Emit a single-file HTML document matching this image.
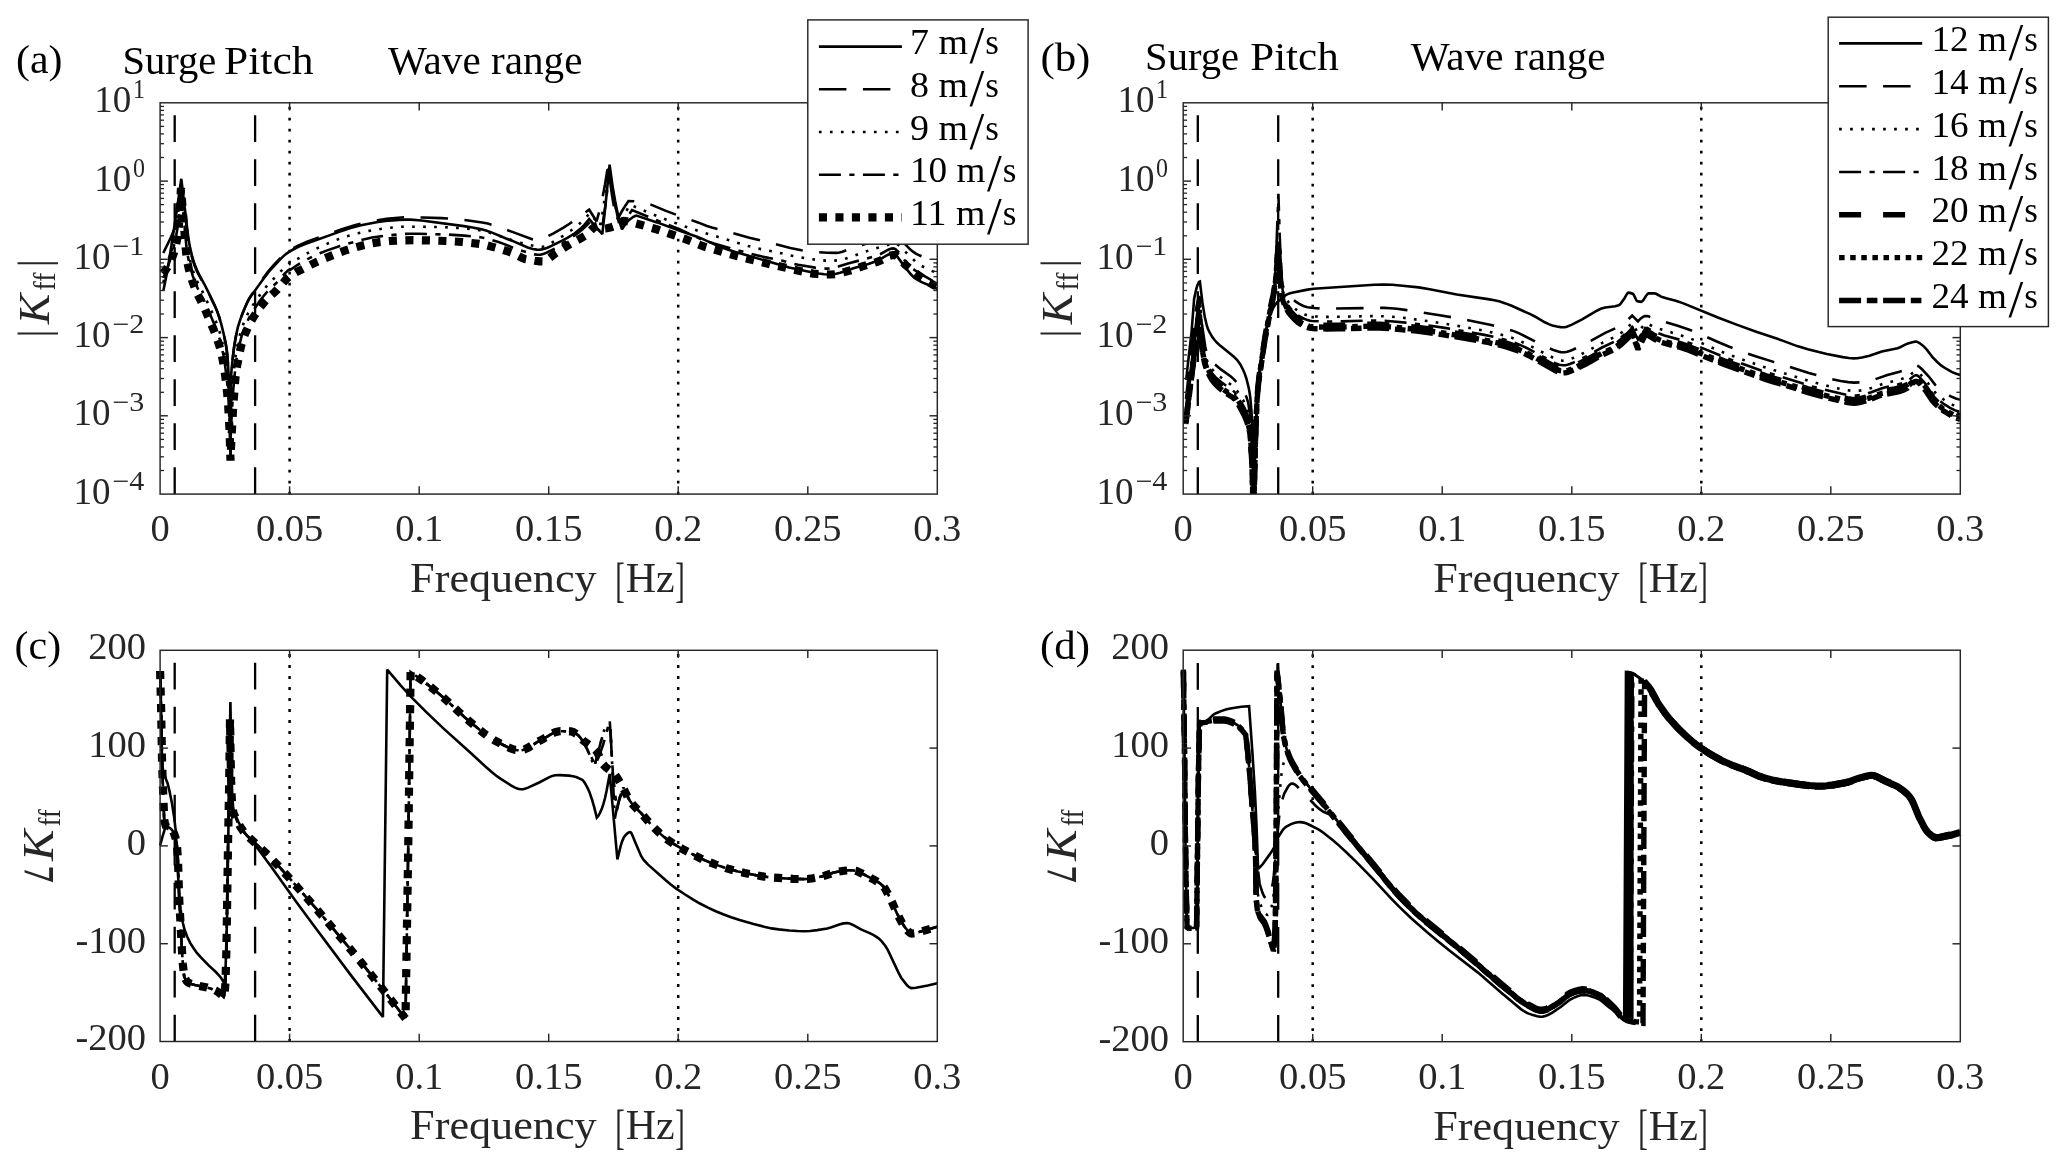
<!DOCTYPE html>
<html lang="en"><head><meta charset="utf-8"><title>Feedforward gain frequency response</title>
<style>html,body{margin:0;padding:0;background:#fff}body{width:2067px;height:1168px;overflow:hidden}svg{display:block;will-change:transform}text{font-family:"Liberation Serif","DejaVu Serif",serif}</style></head><body>
<svg width="2067" height="1168" viewBox="0 0 2067 1168">
<rect x="0" y="0" width="2067" height="1168" fill="#fff"/>
<defs>
<clipPath id="clipa"><rect x="155.1" y="97.8" width="787.2" height="396.3"/></clipPath>
<clipPath id="clipb"><rect x="1178.2" y="97.8" width="787.1" height="396.3"/></clipPath>
<clipPath id="clipc"><rect x="155.1" y="645.3" width="787.2" height="401.2"/></clipPath>
<clipPath id="clipd"><rect x="1178.2" y="645.2" width="787.1" height="401.5"/></clipPath>
</defs>
<g id="panel-a">
<line x1="174.7" y1="494.1" x2="174.7" y2="102.8" stroke="#000" stroke-width="2.3" stroke-dasharray="26.8 17.2"/>
<line x1="255.1" y1="494.1" x2="255.1" y2="102.8" stroke="#000" stroke-width="2.3" stroke-dasharray="26.8 17.2"/>
<line x1="289.6" y1="494.5" x2="289.6" y2="102.8" stroke="#000" stroke-width="2.5" stroke-dasharray="2.8 8.2"/>
<line x1="678.2" y1="494.5" x2="678.2" y2="102.8" stroke="#000" stroke-width="2.5" stroke-dasharray="2.8 8.2"/>
<path d="M163.3 291 L166.6 274.8 L169.2 259.8 L176.1 215.1 L181.3 178.8 L188.4 238.3 L189.7 245.9 L192.3 257 L194.4 263.8 L197 270.3 L199 274.4 L204 283.5 L208.1 291.7 L214.7 305.6 L217.3 311.6 L219.3 317.5 L221.4 324.7 L223.5 333.2 L225.7 343.5 L226.8 350.5 L227.7 359 L228.9 379.5 L230.5 458 L230.8 387.6 L231.2 374.6 L231.7 367.7 L233.8 349.1 L235.7 337.4 L237.8 327.4 L240.4 319.1 L244 309.9 L247.5 301.8 L250 297.4 L265.5 276.1 L270 270.3 L279.5 260 L283 256.6 L286.5 253.6 L289.5 251.6 L294 249 L299 246.6 L304.5 244.2 L338.5 232.1 L350.5 228.1 L361 225.3 L376.5 222.2 L385.5 221 L399 219.9 L405 219.6 L410.5 219.6 L421.6 220.5 L463.9 226.1 L472.4 227.5 L480.5 229.1 L486 230.5 L492 232.6 L506.1 238.5 L513.6 241.4 L527.7 247.5 L532.8 249 L536.8 249.6 L539.3 249.7 L541.8 249.4 L544.4 248.7 L547.4 247.7 L551.5 245.9 L562.1 240.7 L567.8 237.7 L574.4 233.5 L580 229.1 L584.1 225.1 L589.2 219.1 L595.5 226.6 L602.3 234.1 L605.8 202 L609.6 164.6 L612.7 187.1 L615 200.3 L617 210.4 L619 219.2 L620.5 224.8 L622 229.3 L625.5 223.9 L628.5 220.4 L633 217 L635 216 L636.5 215.5 L657 222.4 L680.5 231 L697 236.7 L703 239.1 L717.7 245.9 L725.3 248.7 L733.8 251.5 L779.6 264.8 L789.1 267.4 L812.6 272.5 L818.7 273.5 L824.2 274.2 L829.2 274.5 L832.7 274.4 L836.2 273.8 L840.2 272.8 L854.3 267.9 L868.4 263.9 L875.4 261.6 L878.9 260 L885.4 256.1 L887.9 254.8 L890.9 253.8 L893.4 253.6 L895 254.3 L897 256.2 L904.2 266.1 L911.5 275 L914.6 278 L917.6 280 L921.7 282.2 L937.3 288.8" fill="none" stroke="#000" stroke-width="2.6" stroke-linejoin="miter" stroke-miterlimit="2.2" clip-path="url(#clipa)"/>
<path d="M163.3 253 L170.7 237.8 L173.7 230.8 L175.2 226.3 L176.8 219.4 L178.5 210 L179.7 201.1 L180.8 190 L182.4 198.3 L184.6 211.2 L188.8 243.6 L190.3 250.8 L192.4 258.9 L194.5 265.3 L197 271.4 L210.1 296 L214.7 305.6 L217.3 311.6 L219.3 317.5 L221.4 324.7 L223.5 333.2 L225.7 343.5 L226.8 350.5 L227.7 359 L228.9 379.5 L230.5 458 L230.9 381 L231.4 370.4 L233 355.5 L234.2 346.3 L235.7 337.4 L236.7 331.9 L238.3 325.5 L239.9 320.5 L241.9 315 L245.5 306.3 L248.5 299.9 L250.5 296.4 L253.5 291.9 L262.5 279 L268.5 271.1 L273 265.9 L280 258.4 L284 254.5 L288 251.3 L291.5 249.1 L296.5 246.4 L301.5 244.1 L307 241.8 L341 229.6 L355.5 225.1 L367 222.3 L379 220 L386.5 218.9 L401 217.5 L408 217.3 L423 217.5 L441.5 218.1 L452.1 218.7 L461.1 219.6 L470.1 220.7 L482.2 222.5 L487.7 223.6 L492.8 225 L498.9 227 L513 232.1 L532.8 239.5 L536.3 240.2 L539.3 239.9 L542.9 238.6 L553.5 233.3 L563.5 227.7 L569.5 223.8 L589.2 209.7 L596.5 221.3 L599.5 210.7 L602.5 197.7 L605 184.5 L608 166 L612 195 L614.5 210.3 L616.5 221 L622 211 L625.5 205.4 L628.5 201 L634.2 201.2 L641.9 202 L645.9 202.9 L649.9 204.2 L665.9 210.9 L682.4 217 L698 222.4 L706.9 226 L711.9 227.5 L724.4 230.7 L749.4 237.8 L767.2 242 L790.3 248 L801.5 250.3 L807.5 251.3 L817.2 252.1 L827.3 252.7 L836.4 252.9 L839.5 252.5 L842.5 251.7 L852.2 248.2 L864.4 244.3 L873.5 241.1 L877.5 239.4 L884.5 235.4 L887.5 233.8 L890.5 232.8 L893.5 232.5 L895.5 233.4 L897.5 235 L905 244.1 L910.7 249.8 L913.3 251.9 L916.3 253.8 L919.3 255.3 L937.3 263" fill="none" stroke="#000" stroke-width="2.6" stroke-linejoin="miter" stroke-miterlimit="2.2" stroke-dasharray="27.5 16.5" clip-path="url(#clipa)"/>
<path d="M163.3 282.5 L166.4 272.4 L168.9 263.2 L172.7 246 L175.5 231.9 L177.3 221.7 L178.7 211.7 L180.8 186.6 L181.1 184.5 L181.5 186.9 L185 224.3 L186.7 240.6 L188.8 254.3 L190.9 263.6 L193.4 271.9 L196.5 280.1 L204.2 295.1 L214 316.8 L216.8 323.6 L218.9 329.5 L220.7 335.5 L222.4 342.8 L224.2 351.6 L225.6 360.2 L227 370.8 L227.7 377.7 L228.4 387.4 L229.1 401.8 L230.5 459.2 L230.8 415.8 L231.5 400.7 L232.9 381.2 L235 360.4 L236.1 352.6 L237.8 343.3 L240.6 332.1 L242 327.7 L244.1 322.1 L248 313.3 L251.1 307.7 L256.7 299.4 L263 290.7 L267.9 284.7 L277.4 275 L284 267.9 L287.9 264.4 L289.6 263.1 L290 263.8 L296.6 259.5 L303.2 255.6 L309.2 252.2 L316.2 248.7 L323.2 245.5 L331.2 242.1 L338.8 239 L344.8 236.8 L356.4 233.6 L369.1 230.9 L385.3 228.2 L399.1 226.9 L403.2 226.7 L414.9 226.7 L440.1 227 L460.7 228.1 L473.9 229.4 L481.5 230.6 L487.5 232 L493 233.7 L507.5 238.7 L520.5 242.7 L526.5 244.3 L535 246 L539.1 246.6 L542.6 246.8 L545.2 246.4 L548.8 244.7 L555 240.6 L563.1 235.8 L572.8 229.3 L577.3 225.7 L581.3 222.1 L585.4 218 L590 213 L600 226 L602.5 212.4 L604.9 197.3 L609 167 L613.5 196 L616.5 212.2 L619 224 L630 204.6 L644.3 210.8 L658.5 216.6 L670.7 221.3 L685 226.5 L700.1 231.5 L748.4 246.1 L758 248.5 L776.7 252.3 L796.1 256.6 L812.1 259.3 L825.2 260.6 L829.7 260.8 L833.7 260.7 L839.8 260.1 L843.3 259.5 L870.7 249.8 L874.8 248.6 L884.3 246.2 L891.4 243.4 L893 243.1 L894.5 243 L895.5 243.2 L897 243.9 L899.5 245.7 L907.6 254 L915.2 261.3 L917.7 263.4 L921.7 266 L926.2 268.3 L932.2 271.1 L937.3 273" fill="none" stroke="#000" stroke-width="2.6" stroke-linejoin="miter" stroke-miterlimit="2.2" stroke-dasharray="2.7 8.3" clip-path="url(#clipa)"/>
<path d="M163.3 277.9 L167.1 268.9 L169.9 260.5 L173.4 248.1 L176.2 235.5 L177.6 227.4 L178.7 219.4 L180.8 188.9 L181.1 187 L185 231.8 L186.4 246.1 L187.8 255.8 L189.9 265.9 L192.7 275.7 L195.8 284.2 L197.9 288.8 L203.9 300.2 L214 323.4 L216.5 329.5 L218.6 335.5 L220.3 341.3 L221.7 347 L223.5 355.6 L224.9 364.1 L226.6 377.5 L227.7 387.6 L228.4 397.1 L229.4 420.1 L230.5 459.8 L230.8 432.7 L231.2 424 L232.9 394.7 L233.6 385.8 L235.4 367.2 L236.4 359.6 L238.9 346.9 L241.7 335.8 L244.8 327 L248.7 318.5 L252.5 311.7 L258.8 302.3 L263 296.7 L266.9 292.1 L276.7 282.6 L284.7 273.6 L288.2 270.3 L289.6 269.3 L290 270 L296.5 265.6 L302 262.2 L307.5 259.2 L314.5 255.7 L320.5 253 L326.5 250.6 L340 245.9 L360.5 240.1 L372 237.5 L386.6 235.5 L405.4 233.9 L409.5 233.7 L418.6 233.8 L446.3 234.5 L464.3 235.6 L478.9 236.9 L486.4 238.5 L498.5 242 L503 243.6 L515.6 248.7 L530.8 253.6 L534.4 254.4 L538 254.8 L540.5 254.7 L543 254.1 L547 252.5 L555 248.4 L575 235.2 L579 232.3 L582 229.8 L586 226.1 L590 222 L601 232 L603 221.7 L605.5 205 L607.2 190.7 L609.3 170 L614.5 200.7 L617.5 216.2 L620 228 L632 210 L651 217.9 L680 229.5 L701.5 239.3 L706.5 241.2 L714 243.6 L745.5 252.4 L762.1 256.6 L781.5 260.4 L791.5 263.3 L798.2 264.7 L815.1 267.6 L822.2 268.4 L826.3 268.6 L828.8 268.5 L832.9 267.8 L838.4 266.6 L848 263.5 L865.5 258.9 L876 255.8 L880.6 254 L888.8 249.4 L891.4 248.6 L893.4 248.4 L895.4 249.2 L897.9 251.4 L900.4 254.4 L906.9 263.5 L908.9 265.8 L910.4 267.1 L915.5 270.7 L923.1 275.4 L930.7 279.7 L937.3 283" fill="none" stroke="#000" stroke-width="2.6" stroke-linejoin="miter" stroke-miterlimit="2.2" stroke-dasharray="22 8.4 5.2 8.4" clip-path="url(#clipa)"/>
<path d="M162.7 273.5 L164.9 270.9 L167.1 267.7 L169.3 263.9 L170.9 260.5 L172.5 256.7 L174 252.5 L175.5 247.1 L176.5 242.6 L177.6 236.6 L178.9 226 L181 188 L186.1 252.8 L187.3 261.7 L188.8 269.1 L191.9 280 L195 288.5 L197.6 294.4 L203.4 305.7 L213.9 330.5 L215.9 335.6 L218.6 343.4 L220.3 348.9 L221.9 355.6 L222.9 361.1 L224 367.3 L225.3 376.5 L227.1 392.6 L228 402.5 L229.5 429.2 L230.5 460.5 L231.3 441.3 L233.3 404.8 L235.4 378 L236.7 367.8 L240.4 349 L241.4 344.7 L242.9 339.6 L245 334.1 L248.1 327.1 L251.1 321.2 L254.2 316 L259.8 307.6 L265.5 300.6 L268.6 297.5 L274.8 292 L277.4 289.5 L286.7 278.7 L288.8 276.9 L291.3 275.1 L295.9 272.4 L311.1 264.6 L317.6 261.5 L325.1 258.2 L335.1 254.2 L344.7 250.7 L354.3 247.7 L362.4 245.5 L372.5 243.2 L379.1 242.1 L390.3 241 L401.1 240.5 L413.3 240.2 L428.4 240.4 L449.1 241.1 L462.2 242 L479.3 243.9 L487.3 245.4 L499.8 248.8 L509.4 251.9 L513.4 253.4 L521.9 257.8 L524.9 259 L535 260.8 L539.6 261.3 L543.1 261.4 L545.2 260.9 L547.2 259.8 L555.5 253.3 L568.3 245.1 L572.3 242.8 L581.4 238 L584.9 235.9 L587.4 233.9 L593 228.3 L594.5 227.1 L596 226.2 L597.5 225.7 L598.5 225.7 L600 226.3 L604 228.3 L605 228.5 L607.1 228.3 L610.1 227.6 L613.7 226.4 L619.7 222.6 L621.7 221.6 L623.7 221 L625.7 221.1 L628.8 221.5 L631.8 222.2 L657.4 229.5 L686.7 239.6 L703.5 246.4 L709.6 248.3 L730.4 254.2 L747.5 258.7 L770.2 264.3 L808.1 272.7 L813.2 273.6 L822.8 274.3 L831.5 274.5 L835.1 274.2 L838.6 273.6 L850.8 270.3 L863 266.2 L876.5 262.1 L880.5 260.5 L887.1 256.9 L889.6 255.8 L892.6 255 L894.6 255 L896.2 255.7 L897.7 256.8 L905.5 264.9 L917.5 274.7 L926.7 280.9 L932.9 284.6 L937.3 287" fill="none" stroke="#000" stroke-width="8.2" stroke-linejoin="miter" stroke-miterlimit="2.2" stroke-dasharray="8.1 8.4" clip-path="url(#clipa)"/>
<rect x="160.1" y="102.8" width="777.2" height="391.3" fill="none" stroke="#262626" stroke-width="1.45"/>
<line x1="289.6" y1="494.1" x2="289.6" y2="486.3" stroke="#262626" stroke-width="1.45"/>
<line x1="289.6" y1="102.8" x2="289.6" y2="110.6" stroke="#262626" stroke-width="1.45"/>
<line x1="419.2" y1="494.1" x2="419.2" y2="486.3" stroke="#262626" stroke-width="1.45"/>
<line x1="419.2" y1="102.8" x2="419.2" y2="110.6" stroke="#262626" stroke-width="1.45"/>
<line x1="548.7" y1="494.1" x2="548.7" y2="486.3" stroke="#262626" stroke-width="1.45"/>
<line x1="548.7" y1="102.8" x2="548.7" y2="110.6" stroke="#262626" stroke-width="1.45"/>
<line x1="678.2" y1="494.1" x2="678.2" y2="486.3" stroke="#262626" stroke-width="1.45"/>
<line x1="678.2" y1="102.8" x2="678.2" y2="110.6" stroke="#262626" stroke-width="1.45"/>
<line x1="807.8" y1="494.1" x2="807.8" y2="486.3" stroke="#262626" stroke-width="1.45"/>
<line x1="807.8" y1="102.8" x2="807.8" y2="110.6" stroke="#262626" stroke-width="1.45"/>
<line x1="160.1" y1="157.5" x2="164" y2="157.5" stroke="#262626" stroke-width="1.3"/>
<line x1="937.3" y1="157.5" x2="933.4" y2="157.5" stroke="#262626" stroke-width="1.3"/>
<line x1="160.1" y1="143.7" x2="164" y2="143.7" stroke="#262626" stroke-width="1.3"/>
<line x1="937.3" y1="143.7" x2="933.4" y2="143.7" stroke="#262626" stroke-width="1.3"/>
<line x1="160.1" y1="133.9" x2="164" y2="133.9" stroke="#262626" stroke-width="1.3"/>
<line x1="937.3" y1="133.9" x2="933.4" y2="133.9" stroke="#262626" stroke-width="1.3"/>
<line x1="160.1" y1="126.4" x2="164" y2="126.4" stroke="#262626" stroke-width="1.3"/>
<line x1="937.3" y1="126.4" x2="933.4" y2="126.4" stroke="#262626" stroke-width="1.3"/>
<line x1="160.1" y1="120.2" x2="164" y2="120.2" stroke="#262626" stroke-width="1.3"/>
<line x1="937.3" y1="120.2" x2="933.4" y2="120.2" stroke="#262626" stroke-width="1.3"/>
<line x1="160.1" y1="114.9" x2="164" y2="114.9" stroke="#262626" stroke-width="1.3"/>
<line x1="937.3" y1="114.9" x2="933.4" y2="114.9" stroke="#262626" stroke-width="1.3"/>
<line x1="160.1" y1="110.4" x2="164" y2="110.4" stroke="#262626" stroke-width="1.3"/>
<line x1="937.3" y1="110.4" x2="933.4" y2="110.4" stroke="#262626" stroke-width="1.3"/>
<line x1="160.1" y1="106.4" x2="164" y2="106.4" stroke="#262626" stroke-width="1.3"/>
<line x1="937.3" y1="106.4" x2="933.4" y2="106.4" stroke="#262626" stroke-width="1.3"/>
<line x1="160.1" y1="181.1" x2="167.9" y2="181.1" stroke="#262626" stroke-width="1.45"/>
<line x1="937.3" y1="181.1" x2="929.5" y2="181.1" stroke="#262626" stroke-width="1.45"/>
<line x1="160.1" y1="235.8" x2="164" y2="235.8" stroke="#262626" stroke-width="1.3"/>
<line x1="937.3" y1="235.8" x2="933.4" y2="235.8" stroke="#262626" stroke-width="1.3"/>
<line x1="160.1" y1="222" x2="164" y2="222" stroke="#262626" stroke-width="1.3"/>
<line x1="937.3" y1="222" x2="933.4" y2="222" stroke="#262626" stroke-width="1.3"/>
<line x1="160.1" y1="212.2" x2="164" y2="212.2" stroke="#262626" stroke-width="1.3"/>
<line x1="937.3" y1="212.2" x2="933.4" y2="212.2" stroke="#262626" stroke-width="1.3"/>
<line x1="160.1" y1="204.6" x2="164" y2="204.6" stroke="#262626" stroke-width="1.3"/>
<line x1="937.3" y1="204.6" x2="933.4" y2="204.6" stroke="#262626" stroke-width="1.3"/>
<line x1="160.1" y1="198.4" x2="164" y2="198.4" stroke="#262626" stroke-width="1.3"/>
<line x1="937.3" y1="198.4" x2="933.4" y2="198.4" stroke="#262626" stroke-width="1.3"/>
<line x1="160.1" y1="193.2" x2="164" y2="193.2" stroke="#262626" stroke-width="1.3"/>
<line x1="937.3" y1="193.2" x2="933.4" y2="193.2" stroke="#262626" stroke-width="1.3"/>
<line x1="160.1" y1="188.6" x2="164" y2="188.6" stroke="#262626" stroke-width="1.3"/>
<line x1="937.3" y1="188.6" x2="933.4" y2="188.6" stroke="#262626" stroke-width="1.3"/>
<line x1="160.1" y1="184.6" x2="164" y2="184.6" stroke="#262626" stroke-width="1.3"/>
<line x1="937.3" y1="184.6" x2="933.4" y2="184.6" stroke="#262626" stroke-width="1.3"/>
<line x1="160.1" y1="259.3" x2="167.9" y2="259.3" stroke="#262626" stroke-width="1.45"/>
<line x1="937.3" y1="259.3" x2="929.5" y2="259.3" stroke="#262626" stroke-width="1.45"/>
<line x1="160.1" y1="314" x2="164" y2="314" stroke="#262626" stroke-width="1.3"/>
<line x1="937.3" y1="314" x2="933.4" y2="314" stroke="#262626" stroke-width="1.3"/>
<line x1="160.1" y1="300.2" x2="164" y2="300.2" stroke="#262626" stroke-width="1.3"/>
<line x1="937.3" y1="300.2" x2="933.4" y2="300.2" stroke="#262626" stroke-width="1.3"/>
<line x1="160.1" y1="290.5" x2="164" y2="290.5" stroke="#262626" stroke-width="1.3"/>
<line x1="937.3" y1="290.5" x2="933.4" y2="290.5" stroke="#262626" stroke-width="1.3"/>
<line x1="160.1" y1="282.9" x2="164" y2="282.9" stroke="#262626" stroke-width="1.3"/>
<line x1="937.3" y1="282.9" x2="933.4" y2="282.9" stroke="#262626" stroke-width="1.3"/>
<line x1="160.1" y1="276.7" x2="164" y2="276.7" stroke="#262626" stroke-width="1.3"/>
<line x1="937.3" y1="276.7" x2="933.4" y2="276.7" stroke="#262626" stroke-width="1.3"/>
<line x1="160.1" y1="271.4" x2="164" y2="271.4" stroke="#262626" stroke-width="1.3"/>
<line x1="937.3" y1="271.4" x2="933.4" y2="271.4" stroke="#262626" stroke-width="1.3"/>
<line x1="160.1" y1="266.9" x2="164" y2="266.9" stroke="#262626" stroke-width="1.3"/>
<line x1="937.3" y1="266.9" x2="933.4" y2="266.9" stroke="#262626" stroke-width="1.3"/>
<line x1="160.1" y1="262.9" x2="164" y2="262.9" stroke="#262626" stroke-width="1.3"/>
<line x1="937.3" y1="262.9" x2="933.4" y2="262.9" stroke="#262626" stroke-width="1.3"/>
<line x1="160.1" y1="337.6" x2="167.9" y2="337.6" stroke="#262626" stroke-width="1.45"/>
<line x1="937.3" y1="337.6" x2="929.5" y2="337.6" stroke="#262626" stroke-width="1.45"/>
<line x1="160.1" y1="392.3" x2="164" y2="392.3" stroke="#262626" stroke-width="1.3"/>
<line x1="937.3" y1="392.3" x2="933.4" y2="392.3" stroke="#262626" stroke-width="1.3"/>
<line x1="160.1" y1="378.5" x2="164" y2="378.5" stroke="#262626" stroke-width="1.3"/>
<line x1="937.3" y1="378.5" x2="933.4" y2="378.5" stroke="#262626" stroke-width="1.3"/>
<line x1="160.1" y1="368.7" x2="164" y2="368.7" stroke="#262626" stroke-width="1.3"/>
<line x1="937.3" y1="368.7" x2="933.4" y2="368.7" stroke="#262626" stroke-width="1.3"/>
<line x1="160.1" y1="361.1" x2="164" y2="361.1" stroke="#262626" stroke-width="1.3"/>
<line x1="937.3" y1="361.1" x2="933.4" y2="361.1" stroke="#262626" stroke-width="1.3"/>
<line x1="160.1" y1="354.9" x2="164" y2="354.9" stroke="#262626" stroke-width="1.3"/>
<line x1="937.3" y1="354.9" x2="933.4" y2="354.9" stroke="#262626" stroke-width="1.3"/>
<line x1="160.1" y1="349.7" x2="164" y2="349.7" stroke="#262626" stroke-width="1.3"/>
<line x1="937.3" y1="349.7" x2="933.4" y2="349.7" stroke="#262626" stroke-width="1.3"/>
<line x1="160.1" y1="345.2" x2="164" y2="345.2" stroke="#262626" stroke-width="1.3"/>
<line x1="937.3" y1="345.2" x2="933.4" y2="345.2" stroke="#262626" stroke-width="1.3"/>
<line x1="160.1" y1="341.2" x2="164" y2="341.2" stroke="#262626" stroke-width="1.3"/>
<line x1="937.3" y1="341.2" x2="933.4" y2="341.2" stroke="#262626" stroke-width="1.3"/>
<line x1="160.1" y1="415.8" x2="167.9" y2="415.8" stroke="#262626" stroke-width="1.45"/>
<line x1="937.3" y1="415.8" x2="929.5" y2="415.8" stroke="#262626" stroke-width="1.45"/>
<line x1="160.1" y1="470.5" x2="164" y2="470.5" stroke="#262626" stroke-width="1.3"/>
<line x1="937.3" y1="470.5" x2="933.4" y2="470.5" stroke="#262626" stroke-width="1.3"/>
<line x1="160.1" y1="456.8" x2="164" y2="456.8" stroke="#262626" stroke-width="1.3"/>
<line x1="937.3" y1="456.8" x2="933.4" y2="456.8" stroke="#262626" stroke-width="1.3"/>
<line x1="160.1" y1="447" x2="164" y2="447" stroke="#262626" stroke-width="1.3"/>
<line x1="937.3" y1="447" x2="933.4" y2="447" stroke="#262626" stroke-width="1.3"/>
<line x1="160.1" y1="439.4" x2="164" y2="439.4" stroke="#262626" stroke-width="1.3"/>
<line x1="937.3" y1="439.4" x2="933.4" y2="439.4" stroke="#262626" stroke-width="1.3"/>
<line x1="160.1" y1="433.2" x2="164" y2="433.2" stroke="#262626" stroke-width="1.3"/>
<line x1="937.3" y1="433.2" x2="933.4" y2="433.2" stroke="#262626" stroke-width="1.3"/>
<line x1="160.1" y1="428" x2="164" y2="428" stroke="#262626" stroke-width="1.3"/>
<line x1="937.3" y1="428" x2="933.4" y2="428" stroke="#262626" stroke-width="1.3"/>
<line x1="160.1" y1="423.4" x2="164" y2="423.4" stroke="#262626" stroke-width="1.3"/>
<line x1="937.3" y1="423.4" x2="933.4" y2="423.4" stroke="#262626" stroke-width="1.3"/>
<line x1="160.1" y1="419.4" x2="164" y2="419.4" stroke="#262626" stroke-width="1.3"/>
<line x1="937.3" y1="419.4" x2="933.4" y2="419.4" stroke="#262626" stroke-width="1.3"/>
<text x="160.1" y="541.1" font-size="38.5" text-anchor="middle" fill="#262626">0</text>
<text x="289.6" y="541.1" font-size="38.5" text-anchor="middle" fill="#262626">0.05</text>
<text x="419.2" y="541.1" font-size="38.5" text-anchor="middle" fill="#262626">0.1</text>
<text x="548.7" y="541.1" font-size="38.5" text-anchor="middle" fill="#262626">0.15</text>
<text x="678.2" y="541.1" font-size="38.5" text-anchor="middle" fill="#262626">0.2</text>
<text x="807.8" y="541.1" font-size="38.5" text-anchor="middle" fill="#262626">0.25</text>
<text x="937.3" y="541.1" font-size="38.5" text-anchor="middle" fill="#262626">0.3</text>
<text x="410.1" y="592" font-size="41.5" text-anchor="start" fill="#262626" textLength="186.5" lengthAdjust="spacingAndGlyphs">Frequency</text>
<text x="615.2" y="595.5" font-size="49" text-anchor="start" fill="#262626" textLength="9.5" lengthAdjust="spacingAndGlyphs">[</text>
<text x="625.7" y="592" font-size="42" text-anchor="start" fill="#262626">Hz</text>
<text x="675.2" y="595.5" font-size="49" text-anchor="start" fill="#262626" textLength="9.5" lengthAdjust="spacingAndGlyphs">]</text>
<text x="94.3" y="112.2" font-size="38.5" text-anchor="start" fill="#262626" textLength="37" lengthAdjust="spacingAndGlyphs">10</text>
<text x="133" y="98.4" font-size="27" text-anchor="start" fill="#262626" textLength="12" lengthAdjust="spacingAndGlyphs">1</text>
<text x="94.3" y="190.5" font-size="38.5" text-anchor="start" fill="#262626" textLength="37" lengthAdjust="spacingAndGlyphs">10</text>
<text x="133" y="176.7" font-size="27" text-anchor="start" fill="#262626" textLength="12" lengthAdjust="spacingAndGlyphs">0</text>
<text x="73.4" y="268.7" font-size="38.5" text-anchor="start" fill="#262626" textLength="37" lengthAdjust="spacingAndGlyphs">10</text>
<text x="112.3" y="254.9" font-size="27" text-anchor="start" fill="#262626" textLength="32" lengthAdjust="spacingAndGlyphs">−1</text>
<text x="73.4" y="347" font-size="38.5" text-anchor="start" fill="#262626" textLength="37" lengthAdjust="spacingAndGlyphs">10</text>
<text x="112.3" y="333.2" font-size="27" text-anchor="start" fill="#262626" textLength="32" lengthAdjust="spacingAndGlyphs">−2</text>
<text x="73.4" y="425.2" font-size="38.5" text-anchor="start" fill="#262626" textLength="37" lengthAdjust="spacingAndGlyphs">10</text>
<text x="112.3" y="411.4" font-size="27" text-anchor="start" fill="#262626" textLength="32" lengthAdjust="spacingAndGlyphs">−3</text>
<text x="73.4" y="503.5" font-size="38.5" text-anchor="start" fill="#262626" textLength="37" lengthAdjust="spacingAndGlyphs">10</text>
<text x="112.3" y="489.7" font-size="27" text-anchor="start" fill="#262626" textLength="32" lengthAdjust="spacingAndGlyphs">−4</text>
<g transform="translate(49 298.4) rotate(-90)" fill="#262626">
<text x="-39.5" y="0" font-size="45" text-anchor="start" fill="#262626">|</text>
<text x="-25.8" y="0" font-size="44" text-anchor="start" fill="#262626" textLength="30.5" lengthAdjust="spacingAndGlyphs" font-style="italic">K</text>
<text x="7.9" y="6.1" font-size="31" text-anchor="start" fill="#262626" textLength="17.8" lengthAdjust="spacingAndGlyphs">ff</text>
<text x="30.6" y="0" font-size="45" text-anchor="start" fill="#262626">|</text>
</g>
<text x="16" y="73.1" font-size="39.5" text-anchor="start" fill="#000" textLength="46.5" lengthAdjust="spacingAndGlyphs">(a)</text>
<text x="122.4" y="73.5" font-size="39" text-anchor="start" fill="#000" textLength="94" lengthAdjust="spacingAndGlyphs">Surge</text>
<text x="224" y="73.5" font-size="39" text-anchor="start" fill="#000" textLength="89.5" lengthAdjust="spacingAndGlyphs">Pitch</text>
<text x="388" y="73.5" font-size="39" text-anchor="start" fill="#000" textLength="194.5" lengthAdjust="spacingAndGlyphs">Wave range</text>
</g>
<g id="panel-b">
<line x1="1197.8" y1="494.1" x2="1197.8" y2="102.8" stroke="#000" stroke-width="2.3" stroke-dasharray="26.8 17.2"/>
<line x1="1278.2" y1="494.1" x2="1278.2" y2="102.8" stroke="#000" stroke-width="2.3" stroke-dasharray="26.8 17.2"/>
<line x1="1312.7" y1="494.5" x2="1312.7" y2="102.8" stroke="#000" stroke-width="2.5" stroke-dasharray="2.8 8.2"/>
<line x1="1701.3" y1="494.5" x2="1701.3" y2="102.8" stroke="#000" stroke-width="2.5" stroke-dasharray="2.8 8.2"/>
<path d="M1186.2 380 L1187.6 366.6 L1191.6 331.6 L1194.1 299 L1195.9 290.5 L1197.4 285.3 L1198.9 282.1 L1199.4 281.7 L1199.9 281.5 L1202.5 302.9 L1204.8 317.1 L1206.9 326 L1207.9 328.8 L1209.5 332.2 L1212.5 337.3 L1214.6 340 L1217.1 342.8 L1220.1 345.6 L1233.3 356.2 L1237 359.8 L1240.2 364.1 L1243.3 370.2 L1244.9 374.1 L1246.5 378.9 L1248.7 387.7 L1249.6 392.8 L1250.4 398.7 L1251.5 411.5 L1252.3 430 L1252.7 450 L1253.4 530 L1254.2 470 L1254.9 444.9 L1255.9 422.2 L1257.1 400.2 L1258.9 377.9 L1260.5 362 L1262.5 348.2 L1265 335 L1268 322.1 L1270.5 314 L1272 310.4 L1273.5 307.4 L1275 305 L1277 302.5 L1279.6 300.1 L1283.6 296.7 L1285.7 295.2 L1287.7 294.1 L1290.2 293.2 L1293.3 292.4 L1307.5 289.6 L1313.5 288.8 L1374.3 284.7 L1383.8 284.5 L1392.4 284.8 L1402.5 285.7 L1418.7 287.4 L1429.7 289.2 L1456.8 294.5 L1487.9 299.1 L1494.4 300.3 L1499.9 301.6 L1505.5 303.4 L1511.6 305.8 L1530.8 314.4 L1534.8 316.5 L1544.8 322.3 L1549.3 324.4 L1552.3 325.4 L1556.9 326.5 L1560.6 327.1 L1563.2 327.3 L1564.7 327.2 L1566.8 326.8 L1571.4 324.9 L1582.6 319.2 L1595.2 311.6 L1600.7 308.8 L1605.2 307.5 L1615.2 306.2 L1617.7 305.6 L1619.2 305 L1620.3 304.1 L1621.3 302.8 L1624.5 298.2 L1626.8 294.2 L1627.9 292.9 L1628.4 292.7 L1630 292.9 L1632.7 293.7 L1633.2 294.2 L1633.8 295 L1636.5 300.5 L1637.1 301 L1638.2 301.4 L1641 301.9 L1642 301.5 L1643.1 300.4 L1646.1 295.7 L1647.7 293.9 L1648.7 293.4 L1654 293.2 L1656.1 293.8 L1660.7 296.4 L1662.2 297.1 L1666.2 298.3 L1675.8 300.7 L1682.8 303.1 L1718.5 317.7 L1738.6 325.4 L1756.2 331.7 L1780.5 339.9 L1797.2 346.1 L1807.8 349.2 L1818.8 352.1 L1826.8 353.9 L1842.8 357.1 L1848.8 358 L1853.8 358.4 L1857.3 358.3 L1861.9 357.5 L1869.5 355.7 L1881.8 351.4 L1894 349.1 L1897.6 348.2 L1900.1 347.2 L1905.2 344.6 L1907.8 343.6 L1913.4 341.9 L1915.4 341.6 L1916.9 341.7 L1919.5 343 L1924 346.6 L1926.1 348.8 L1932.7 357.4 L1937.8 362.5 L1941.4 365.7 L1946.5 369 L1952.1 372.1 L1956.2 373.8 L1960.3 375" fill="none" stroke="#000" stroke-width="2.6" stroke-linejoin="miter" stroke-miterlimit="2.2" clip-path="url(#clipb)"/>
<path d="M1186 399 L1192 345 L1194.9 316.4 L1196 309.2 L1197.5 301.7 L1198.5 298.1 L1199.5 296 L1201.3 317.2 L1202.5 328 L1205.2 346.3 L1206.3 351.6 L1207.4 354.9 L1209.9 359.2 L1212.9 362.7 L1220.9 369.4 L1230.5 376.2 L1233.5 378.9 L1236.5 382.2 L1240 386.6 L1244.6 393.1 L1246.6 397.4 L1248.1 402.4 L1249.5 411.3 L1250.5 420 L1251.2 429.3 L1251.7 440.5 L1252.6 470.7 L1253.4 530 L1254.2 479.4 L1254.9 450.2 L1256.9 404.2 L1257.5 394 L1258.4 382.9 L1260.6 364 L1263 347.7 L1266.6 329.2 L1274.5 294.8 L1276.3 283.6 L1278.4 266 L1280.5 277 L1282.1 283.8 L1283.7 287.8 L1286.7 292.9 L1288.7 295.5 L1290.7 297.7 L1292.7 299.4 L1295.7 301.6 L1299.3 303.9 L1302.4 305.5 L1305 306.6 L1307.6 307.2 L1316.2 308.2 L1324.8 308.6 L1377.3 307.9 L1384.3 307.9 L1390.4 308.2 L1396.9 308.8 L1405 309.9 L1439.7 315.3 L1453.8 317.6 L1469.3 320.5 L1490 324.7 L1501.6 327.5 L1511.7 330.4 L1515.7 331.9 L1519.7 333.6 L1535.2 341.5 L1552.7 349.7 L1558.2 351.6 L1560.7 352.1 L1562.7 352.3 L1564.7 352.2 L1567.3 351.8 L1570.3 350.8 L1573.4 349.5 L1586.5 343.3 L1605.2 332.9 L1618 327.2 L1621 325.4 L1624.6 322.7 L1628.1 319.5 L1632.2 315.5 L1638 321.3 L1640.5 318.7 L1643 316.9 L1645 316.1 L1647 316.1 L1649 316.6 L1653.5 318.4 L1677.7 325.8 L1691.5 330.5 L1699.6 333.8 L1716.8 341.5 L1729.3 346.8 L1741.8 351.6 L1755.5 356.3 L1808.9 372.9 L1831.6 379 L1840.6 381 L1848.2 382.1 L1854 382.6 L1862.4 382.3 L1866.9 381.7 L1873.4 379.9 L1887.4 375 L1899.6 371.7 L1904.7 370.1 L1913.4 366 L1915.4 365.5 L1916.9 365.6 L1917.9 366 L1919.5 367 L1922 369.3 L1928.6 376.3 L1935.2 384.8 L1938.3 387.9 L1945.3 393 L1950.8 396.4 L1955.8 398.5 L1958.3 399.2 L1960.3 399.5" fill="none" stroke="#000" stroke-width="2.6" stroke-linejoin="miter" stroke-miterlimit="2.2" stroke-dasharray="27.5 16.5" clip-path="url(#clipb)"/>
<path d="M1186 408.9 L1192 357.4 L1195.2 328.3 L1197.6 311.4 L1199.2 302.4 L1201.2 326.9 L1202.4 337.5 L1204 347.8 L1205.2 353.9 L1206.4 358.7 L1207.6 361.9 L1209.2 365 L1210.8 367.5 L1212.8 370.1 L1214.8 372.1 L1220.8 377.3 L1231.6 385.1 L1234 387.2 L1236 389.4 L1239.2 393.8 L1244.4 402.3 L1246.4 406.7 L1248 411.7 L1249.2 417.6 L1250 423.1 L1251.2 438.1 L1252.4 468.9 L1253.2 515.1 L1253.6 517.4 L1254.4 474.6 L1255.2 446.1 L1256.8 405.1 L1258 387.2 L1260 369.9 L1262 355.6 L1264 343.1 L1266.8 328.1 L1273.2 298.7 L1274.8 290.1 L1276.4 277.4 L1278.4 255.7 L1280 274.4 L1281.2 284.5 L1282.8 291.3 L1284.8 296.1 L1286.8 299.7 L1288.8 302.5 L1291.2 305.3 L1294.4 308.2 L1297.6 310.7 L1300.8 312.7 L1304.8 314.6 L1308.4 315.7 L1311.2 316.2 L1314.4 316.4 L1325.2 316.9 L1338 316.8 L1372.4 316.1 L1382.8 316.2 L1390 316.5 L1403.2 317.8 L1428.4 321.2 L1442.8 323.4 L1460 326.3 L1479.2 329.8 L1492 332.5 L1503.2 335.2 L1512.4 338 L1518.4 340.3 L1525.6 343.6 L1554.4 358.4 L1558.8 360 L1560.8 360.5 L1562.8 360.7 L1565.2 360.5 L1567.6 360.1 L1570.4 359.2 L1573.6 357.8 L1586.4 351.7 L1603.2 342.3 L1616.4 336.1 L1619.6 334.2 L1622.8 331.7 L1627.6 327.4 L1632 323 L1638 333 L1642.4 326.9 L1644.8 324.1 L1645.6 323.3 L1646 323.2 L1648 324 L1653.6 326.7 L1658.4 328.5 L1681.2 335.4 L1690 338.4 L1698.4 341.7 L1717.2 349.9 L1727.2 353.9 L1738.4 358.1 L1761.2 366.1 L1811.2 381.7 L1829.2 386.4 L1844 389.8 L1850.8 390.7 L1855.6 391 L1861.2 390.4 L1867.6 389.1 L1871.6 387.9 L1883.2 383.8 L1897.2 380.3 L1902.8 378.6 L1905.6 377.5 L1908 376.3 L1912.4 373.1 L1914 372.2 L1915.6 371.7 L1916.8 371.8 L1918 372.4 L1919.2 373.2 L1923.2 377.3 L1927.6 382.6 L1933.6 390.6 L1936.4 393.7 L1938.4 395.6 L1944 399.8 L1950.4 403.8 L1955.2 406.1 L1960 407.5" fill="none" stroke="#000" stroke-width="2.6" stroke-linejoin="miter" stroke-miterlimit="2.2" stroke-dasharray="2.7 8.3" clip-path="url(#clipb)"/>
<path d="M1186 414.4 L1195.6 332.9 L1199.2 305.7 L1201.2 332.9 L1202.4 343.2 L1203.6 350.6 L1204.8 356.6 L1206 361.2 L1207.6 365.6 L1209.2 368.8 L1211.2 372.1 L1213.2 374.7 L1215.2 376.9 L1220.8 381.8 L1232.4 390.1 L1234.8 392.3 L1236.4 394.2 L1239.6 399.1 L1244.4 407.6 L1246.8 413.3 L1248.4 418.6 L1249.2 422.3 L1250 427.5 L1251.2 442.6 L1252.4 473.1 L1253.2 516.6 L1253.6 518.4 L1254.4 477.7 L1255.2 447.9 L1256.8 404.8 L1257.6 391.5 L1259.2 376.2 L1264 343.5 L1267.2 325.9 L1270.4 310.1 L1273.2 297.5 L1274 291.9 L1275.2 275.3 L1276 259.5 L1278.4 193.7 L1279.6 232.4 L1280.8 263.2 L1282 283.4 L1283.2 295.1 L1283.6 296.8 L1284.4 298.7 L1286.8 303.4 L1289.2 306.9 L1292 310.1 L1295.6 313.4 L1299.2 316.1 L1303.6 318.5 L1307.6 320.1 L1310 320.7 L1312 321 L1324.8 321.5 L1337.6 321.4 L1372.4 320.6 L1382.4 320.7 L1390.8 321.2 L1405.6 322.6 L1428.8 325.5 L1444.8 327.9 L1469.6 332.2 L1484.4 334.9 L1495.6 337.3 L1505.2 339.8 L1513.6 342.4 L1520 344.9 L1527.2 348.2 L1555.2 363.2 L1559.2 364.7 L1562.8 365.3 L1565.2 365.2 L1567.6 364.7 L1570.4 363.8 L1573.6 362.5 L1586.8 356.1 L1602 347.5 L1615.6 341.1 L1618.8 339.1 L1622 336.6 L1627.2 331.9 L1632 327.1 L1638 339.6 L1643.2 331 L1645.6 327.4 L1646 327.2 L1653.2 331.1 L1658 333.2 L1664.4 335.4 L1680.4 339.9 L1688 342.4 L1695.6 345.3 L1725.6 357.7 L1763.6 371.4 L1793.2 380.4 L1812 386.4 L1826 390 L1840.8 393.6 L1846 394.7 L1851.6 395.5 L1856.4 395.6 L1860.8 395 L1867.6 393.4 L1871.2 392.2 L1882 388.2 L1886.4 387.1 L1896.4 385 L1902.4 383.1 L1905.6 381.8 L1908.4 380.4 L1914 375.8 L1915.6 375.2 L1916.8 375.3 L1918 375.9 L1919.2 376.9 L1923.6 381.5 L1926 384.6 L1932.8 394 L1935.6 397.1 L1938.4 399.8 L1943.2 403.5 L1950 407.8 L1955.2 410.4 L1960 412" fill="none" stroke="#000" stroke-width="2.6" stroke-linejoin="miter" stroke-miterlimit="2.2" stroke-dasharray="22 8.4 5.2 8.4" clip-path="url(#clipb)"/>
<path d="M1185.9 420.2 L1187.8 403.9 L1193.7 357.2 L1199.2 307.9 L1200.8 332.9 L1201.9 344.9 L1202.9 351.5 L1204.5 359 L1205.5 362.6 L1207.5 368 L1209.6 372.3 L1211.6 375.8 L1213.7 378.6 L1216.2 381.4 L1219.7 384.5 L1225.7 389.1 L1232.8 393.8 L1234.8 395.6 L1236.4 397.5 L1239.5 402.7 L1244.6 412.5 L1246.6 417.5 L1248.8 424.4 L1249.9 430.2 L1250.5 435.5 L1251.8 458.7 L1252.5 481.9 L1253.4 528.2 L1254.5 476.7 L1255.5 436.9 L1256.8 401.6 L1257.8 387 L1259.3 374.2 L1264.9 336.7 L1268 319.9 L1270.5 306.8 L1273 295.3 L1274.5 286.7 L1275.5 279.1 L1276.2 271.4 L1278.4 241.2 L1279.8 268.5 L1280.9 285.3 L1281.3 288.9 L1282 293 L1283 297.2 L1284.1 300.2 L1286.2 304.8 L1288.3 308.4 L1290.9 311.8 L1294.9 316.1 L1298 318.7 L1300.5 320.4 L1306 323.2 L1309.5 324.4 L1313 324.8 L1327.1 325.2 L1338.2 325.1 L1370.9 324.2 L1380 324.3 L1390 324.9 L1416.7 327.3 L1427.8 328.7 L1443.5 331 L1476.2 336.5 L1488.7 338.9 L1499.8 341.4 L1507.8 343.6 L1515.9 346.3 L1523.9 349.6 L1528.9 351.9 L1555.6 367 L1559.7 368.6 L1563.2 369.1 L1565.7 368.9 L1568.3 368.3 L1573.8 366.2 L1586.9 359.7 L1601.5 351.5 L1611.5 346.9 L1615 345.1 L1618 343.3 L1621 340.9 L1627.5 334.8 L1632 330.2 L1638 345.6 L1645.8 330.1 L1653.4 334.9 L1656.4 336.5 L1659.4 337.7 L1665.9 339.9 L1680.4 343.7 L1686.9 345.8 L1724.1 360.7 L1766.2 375.8 L1774.2 378.3 L1794.7 384.3 L1807.4 388.6 L1812.4 390.1 L1822.6 392.8 L1843.3 397.8 L1847.8 398.7 L1851.3 399.2 L1854.3 399.4 L1856.8 399.3 L1859.4 398.9 L1869 396.2 L1878.2 392.5 L1881.8 391.3 L1885.9 390.4 L1894.5 388.9 L1899.1 387.8 L1903.7 386.1 L1907.8 384.1 L1909.3 382.9 L1913.9 378.3 L1915.4 377.6 L1916.4 377.6 L1917.4 378 L1918.9 379.1 L1923.5 384.2 L1925.5 386.8 L1932.2 396.7 L1935.2 400.1 L1938.8 403.4 L1942.9 406.7 L1950.1 411.2 L1955.7 414 L1960.3 415.7" fill="none" stroke="#000" stroke-width="5.4" stroke-linejoin="miter" stroke-miterlimit="2.2" stroke-dasharray="22 22" clip-path="url(#clipb)"/>
<path d="M1185.9 422.2 L1187.8 405.9 L1193.7 359.2 L1199.2 309.9 L1200.8 334.9 L1201.9 346.9 L1202.9 353.5 L1204.5 361 L1205.5 364.6 L1207.5 370 L1209.6 374.3 L1211.6 377.8 L1213.7 380.6 L1216.2 383.4 L1219.7 386.5 L1225.7 391.1 L1232.8 395.8 L1234.8 397.6 L1236.4 399.5 L1239.5 404.7 L1244.6 414.5 L1246.6 419.5 L1248.8 426.4 L1249.9 432.2 L1250.5 437.5 L1251.8 460.7 L1252.5 483.9 L1253.4 530.2 L1254.5 478.7 L1255.5 438.9 L1256.8 403.6 L1257.8 389 L1259.3 376.2 L1264.9 338.7 L1268 321.9 L1270.5 308.8 L1273 297.3 L1274.5 288.7 L1275.5 281.1 L1276.2 273.4 L1278.4 243.2 L1279.8 270.5 L1280.9 287.3 L1281.3 290.9 L1282 295 L1283 299.2 L1284.1 302.2 L1286.2 306.8 L1288.3 310.4 L1290.9 313.8 L1294.9 318.1 L1298 320.7 L1300.5 322.4 L1306 325.2 L1309.5 326.4 L1313 326.8 L1327.1 327.2 L1338.2 327.1 L1370.9 326.2 L1380 326.3 L1390 326.9 L1416.7 329.3 L1427.8 330.7 L1443.5 333 L1476.2 338.5 L1488.7 340.9 L1499.8 343.4 L1507.8 345.6 L1515.9 348.3 L1523.9 351.6 L1528.9 353.9 L1555.6 369 L1559.7 370.6 L1563.2 371.1 L1565.7 370.9 L1568.3 370.3 L1573.8 368.2 L1586.9 361.7 L1601.5 353.5 L1611.5 348.9 L1615 347.1 L1618 345.3 L1621 342.9 L1627.5 336.8 L1632 332.2 L1638 347.6 L1645.8 332.1 L1653.4 336.9 L1656.4 338.5 L1659.4 339.7 L1665.9 341.9 L1680.4 345.7 L1686.9 347.8 L1724.1 362.7 L1766.2 377.8 L1774.2 380.3 L1794.7 386.3 L1807.4 390.6 L1812.4 392.1 L1822.6 394.8 L1843.3 399.8 L1847.8 400.7 L1851.3 401.2 L1854.3 401.4 L1856.8 401.3 L1859.4 400.9 L1869 398.2 L1878.2 394.5 L1881.8 393.3 L1885.9 392.4 L1894.5 390.9 L1899.1 389.8 L1903.7 388.1 L1907.8 386.1 L1909.3 384.9 L1913.9 380.3 L1915.4 379.6 L1916.4 379.6 L1917.4 380 L1918.9 381.1 L1923.5 386.2 L1925.5 388.8 L1932.2 398.7 L1935.2 402.1 L1938.8 405.4 L1942.9 408.7 L1950.1 413.2 L1955.7 416 L1960.3 417.7" fill="none" stroke="#000" stroke-width="5.4" stroke-linejoin="miter" stroke-miterlimit="2.2" stroke-dasharray="5.5 5.6" clip-path="url(#clipb)"/>
<path d="M1185.9 424 L1187.8 407.7 L1193.7 361 L1199.2 311.7 L1200.8 336.7 L1201.9 348.7 L1202.9 355.3 L1204.5 362.8 L1205.5 366.4 L1207.5 371.8 L1209.6 376.1 L1211.6 379.6 L1213.7 382.4 L1216.2 385.2 L1219.7 388.3 L1225.7 392.9 L1232.8 397.6 L1234.8 399.4 L1236.4 401.3 L1239.5 406.5 L1244.6 416.3 L1246.6 421.3 L1248.8 428.2 L1249.9 434 L1250.5 439.3 L1251.8 462.5 L1252.5 485.7 L1253.4 532 L1254.5 480.5 L1255.5 440.7 L1256.8 405.4 L1257.8 390.8 L1259.3 378 L1264.9 340.5 L1268 323.7 L1270.5 310.6 L1273 299.1 L1274.5 290.5 L1275.5 282.9 L1276.2 275.2 L1278.4 245 L1279.8 272.3 L1280.9 289.1 L1281.3 292.7 L1282 296.8 L1283 301 L1284.1 304 L1286.2 308.6 L1288.3 312.2 L1290.9 315.6 L1294.9 319.9 L1298 322.5 L1300.5 324.2 L1306 327 L1309.5 328.2 L1313 328.6 L1327.1 329 L1338.2 328.9 L1370.9 328 L1380 328.1 L1390 328.7 L1416.7 331.1 L1427.8 332.5 L1443.5 334.8 L1476.2 340.3 L1488.7 342.7 L1499.8 345.2 L1507.8 347.4 L1515.9 350.1 L1523.9 353.4 L1528.9 355.7 L1555.6 370.8 L1559.7 372.4 L1563.2 372.9 L1565.7 372.7 L1568.3 372.1 L1573.8 370 L1586.9 363.5 L1601.5 355.3 L1611.5 350.7 L1615 348.9 L1618 347.1 L1621 344.7 L1627.5 338.6 L1632 334 L1638 349.4 L1645.8 333.9 L1653.4 338.7 L1656.4 340.3 L1659.4 341.5 L1665.9 343.7 L1680.4 347.5 L1686.9 349.6 L1724.1 364.5 L1766.2 379.6 L1774.2 382.1 L1794.7 388.1 L1807.4 392.4 L1812.4 393.9 L1822.6 396.6 L1843.3 401.6 L1847.8 402.5 L1851.3 403 L1854.3 403.2 L1856.8 403.1 L1859.4 402.7 L1869 400 L1878.2 396.3 L1881.8 395.1 L1885.9 394.2 L1894.5 392.7 L1899.1 391.6 L1903.7 389.9 L1907.8 387.9 L1909.3 386.7 L1913.9 382.1 L1915.4 381.4 L1916.4 381.4 L1917.4 381.8 L1918.9 382.9 L1923.5 388 L1925.5 390.6 L1932.2 400.5 L1935.2 403.9 L1938.8 407.2 L1942.9 410.5 L1950.1 415 L1955.7 417.8 L1960.3 419.5" fill="none" stroke="#000" stroke-width="5.4" stroke-linejoin="miter" stroke-miterlimit="2.2" stroke-dasharray="22 5.7 10.6 5.7" clip-path="url(#clipb)"/>
<rect x="1183.2" y="102.8" width="777.1" height="391.3" fill="none" stroke="#262626" stroke-width="1.45"/>
<line x1="1312.7" y1="494.1" x2="1312.7" y2="486.3" stroke="#262626" stroke-width="1.45"/>
<line x1="1312.7" y1="102.8" x2="1312.7" y2="110.6" stroke="#262626" stroke-width="1.45"/>
<line x1="1442.2" y1="494.1" x2="1442.2" y2="486.3" stroke="#262626" stroke-width="1.45"/>
<line x1="1442.2" y1="102.8" x2="1442.2" y2="110.6" stroke="#262626" stroke-width="1.45"/>
<line x1="1571.8" y1="494.1" x2="1571.8" y2="486.3" stroke="#262626" stroke-width="1.45"/>
<line x1="1571.8" y1="102.8" x2="1571.8" y2="110.6" stroke="#262626" stroke-width="1.45"/>
<line x1="1701.3" y1="494.1" x2="1701.3" y2="486.3" stroke="#262626" stroke-width="1.45"/>
<line x1="1701.3" y1="102.8" x2="1701.3" y2="110.6" stroke="#262626" stroke-width="1.45"/>
<line x1="1830.8" y1="494.1" x2="1830.8" y2="486.3" stroke="#262626" stroke-width="1.45"/>
<line x1="1830.8" y1="102.8" x2="1830.8" y2="110.6" stroke="#262626" stroke-width="1.45"/>
<line x1="1183.2" y1="157.5" x2="1187.1" y2="157.5" stroke="#262626" stroke-width="1.3"/>
<line x1="1960.3" y1="157.5" x2="1956.4" y2="157.5" stroke="#262626" stroke-width="1.3"/>
<line x1="1183.2" y1="143.7" x2="1187.1" y2="143.7" stroke="#262626" stroke-width="1.3"/>
<line x1="1960.3" y1="143.7" x2="1956.4" y2="143.7" stroke="#262626" stroke-width="1.3"/>
<line x1="1183.2" y1="133.9" x2="1187.1" y2="133.9" stroke="#262626" stroke-width="1.3"/>
<line x1="1960.3" y1="133.9" x2="1956.4" y2="133.9" stroke="#262626" stroke-width="1.3"/>
<line x1="1183.2" y1="126.4" x2="1187.1" y2="126.4" stroke="#262626" stroke-width="1.3"/>
<line x1="1960.3" y1="126.4" x2="1956.4" y2="126.4" stroke="#262626" stroke-width="1.3"/>
<line x1="1183.2" y1="120.2" x2="1187.1" y2="120.2" stroke="#262626" stroke-width="1.3"/>
<line x1="1960.3" y1="120.2" x2="1956.4" y2="120.2" stroke="#262626" stroke-width="1.3"/>
<line x1="1183.2" y1="114.9" x2="1187.1" y2="114.9" stroke="#262626" stroke-width="1.3"/>
<line x1="1960.3" y1="114.9" x2="1956.4" y2="114.9" stroke="#262626" stroke-width="1.3"/>
<line x1="1183.2" y1="110.4" x2="1187.1" y2="110.4" stroke="#262626" stroke-width="1.3"/>
<line x1="1960.3" y1="110.4" x2="1956.4" y2="110.4" stroke="#262626" stroke-width="1.3"/>
<line x1="1183.2" y1="106.4" x2="1187.1" y2="106.4" stroke="#262626" stroke-width="1.3"/>
<line x1="1960.3" y1="106.4" x2="1956.4" y2="106.4" stroke="#262626" stroke-width="1.3"/>
<line x1="1183.2" y1="181.1" x2="1191" y2="181.1" stroke="#262626" stroke-width="1.45"/>
<line x1="1960.3" y1="181.1" x2="1952.5" y2="181.1" stroke="#262626" stroke-width="1.45"/>
<line x1="1183.2" y1="235.8" x2="1187.1" y2="235.8" stroke="#262626" stroke-width="1.3"/>
<line x1="1960.3" y1="235.8" x2="1956.4" y2="235.8" stroke="#262626" stroke-width="1.3"/>
<line x1="1183.2" y1="222" x2="1187.1" y2="222" stroke="#262626" stroke-width="1.3"/>
<line x1="1960.3" y1="222" x2="1956.4" y2="222" stroke="#262626" stroke-width="1.3"/>
<line x1="1183.2" y1="212.2" x2="1187.1" y2="212.2" stroke="#262626" stroke-width="1.3"/>
<line x1="1960.3" y1="212.2" x2="1956.4" y2="212.2" stroke="#262626" stroke-width="1.3"/>
<line x1="1183.2" y1="204.6" x2="1187.1" y2="204.6" stroke="#262626" stroke-width="1.3"/>
<line x1="1960.3" y1="204.6" x2="1956.4" y2="204.6" stroke="#262626" stroke-width="1.3"/>
<line x1="1183.2" y1="198.4" x2="1187.1" y2="198.4" stroke="#262626" stroke-width="1.3"/>
<line x1="1960.3" y1="198.4" x2="1956.4" y2="198.4" stroke="#262626" stroke-width="1.3"/>
<line x1="1183.2" y1="193.2" x2="1187.1" y2="193.2" stroke="#262626" stroke-width="1.3"/>
<line x1="1960.3" y1="193.2" x2="1956.4" y2="193.2" stroke="#262626" stroke-width="1.3"/>
<line x1="1183.2" y1="188.6" x2="1187.1" y2="188.6" stroke="#262626" stroke-width="1.3"/>
<line x1="1960.3" y1="188.6" x2="1956.4" y2="188.6" stroke="#262626" stroke-width="1.3"/>
<line x1="1183.2" y1="184.6" x2="1187.1" y2="184.6" stroke="#262626" stroke-width="1.3"/>
<line x1="1960.3" y1="184.6" x2="1956.4" y2="184.6" stroke="#262626" stroke-width="1.3"/>
<line x1="1183.2" y1="259.3" x2="1191" y2="259.3" stroke="#262626" stroke-width="1.45"/>
<line x1="1960.3" y1="259.3" x2="1952.5" y2="259.3" stroke="#262626" stroke-width="1.45"/>
<line x1="1183.2" y1="314" x2="1187.1" y2="314" stroke="#262626" stroke-width="1.3"/>
<line x1="1960.3" y1="314" x2="1956.4" y2="314" stroke="#262626" stroke-width="1.3"/>
<line x1="1183.2" y1="300.2" x2="1187.1" y2="300.2" stroke="#262626" stroke-width="1.3"/>
<line x1="1960.3" y1="300.2" x2="1956.4" y2="300.2" stroke="#262626" stroke-width="1.3"/>
<line x1="1183.2" y1="290.5" x2="1187.1" y2="290.5" stroke="#262626" stroke-width="1.3"/>
<line x1="1960.3" y1="290.5" x2="1956.4" y2="290.5" stroke="#262626" stroke-width="1.3"/>
<line x1="1183.2" y1="282.9" x2="1187.1" y2="282.9" stroke="#262626" stroke-width="1.3"/>
<line x1="1960.3" y1="282.9" x2="1956.4" y2="282.9" stroke="#262626" stroke-width="1.3"/>
<line x1="1183.2" y1="276.7" x2="1187.1" y2="276.7" stroke="#262626" stroke-width="1.3"/>
<line x1="1960.3" y1="276.7" x2="1956.4" y2="276.7" stroke="#262626" stroke-width="1.3"/>
<line x1="1183.2" y1="271.4" x2="1187.1" y2="271.4" stroke="#262626" stroke-width="1.3"/>
<line x1="1960.3" y1="271.4" x2="1956.4" y2="271.4" stroke="#262626" stroke-width="1.3"/>
<line x1="1183.2" y1="266.9" x2="1187.1" y2="266.9" stroke="#262626" stroke-width="1.3"/>
<line x1="1960.3" y1="266.9" x2="1956.4" y2="266.9" stroke="#262626" stroke-width="1.3"/>
<line x1="1183.2" y1="262.9" x2="1187.1" y2="262.9" stroke="#262626" stroke-width="1.3"/>
<line x1="1960.3" y1="262.9" x2="1956.4" y2="262.9" stroke="#262626" stroke-width="1.3"/>
<line x1="1183.2" y1="337.6" x2="1191" y2="337.6" stroke="#262626" stroke-width="1.45"/>
<line x1="1960.3" y1="337.6" x2="1952.5" y2="337.6" stroke="#262626" stroke-width="1.45"/>
<line x1="1183.2" y1="392.3" x2="1187.1" y2="392.3" stroke="#262626" stroke-width="1.3"/>
<line x1="1960.3" y1="392.3" x2="1956.4" y2="392.3" stroke="#262626" stroke-width="1.3"/>
<line x1="1183.2" y1="378.5" x2="1187.1" y2="378.5" stroke="#262626" stroke-width="1.3"/>
<line x1="1960.3" y1="378.5" x2="1956.4" y2="378.5" stroke="#262626" stroke-width="1.3"/>
<line x1="1183.2" y1="368.7" x2="1187.1" y2="368.7" stroke="#262626" stroke-width="1.3"/>
<line x1="1960.3" y1="368.7" x2="1956.4" y2="368.7" stroke="#262626" stroke-width="1.3"/>
<line x1="1183.2" y1="361.1" x2="1187.1" y2="361.1" stroke="#262626" stroke-width="1.3"/>
<line x1="1960.3" y1="361.1" x2="1956.4" y2="361.1" stroke="#262626" stroke-width="1.3"/>
<line x1="1183.2" y1="354.9" x2="1187.1" y2="354.9" stroke="#262626" stroke-width="1.3"/>
<line x1="1960.3" y1="354.9" x2="1956.4" y2="354.9" stroke="#262626" stroke-width="1.3"/>
<line x1="1183.2" y1="349.7" x2="1187.1" y2="349.7" stroke="#262626" stroke-width="1.3"/>
<line x1="1960.3" y1="349.7" x2="1956.4" y2="349.7" stroke="#262626" stroke-width="1.3"/>
<line x1="1183.2" y1="345.2" x2="1187.1" y2="345.2" stroke="#262626" stroke-width="1.3"/>
<line x1="1960.3" y1="345.2" x2="1956.4" y2="345.2" stroke="#262626" stroke-width="1.3"/>
<line x1="1183.2" y1="341.2" x2="1187.1" y2="341.2" stroke="#262626" stroke-width="1.3"/>
<line x1="1960.3" y1="341.2" x2="1956.4" y2="341.2" stroke="#262626" stroke-width="1.3"/>
<line x1="1183.2" y1="415.8" x2="1191" y2="415.8" stroke="#262626" stroke-width="1.45"/>
<line x1="1960.3" y1="415.8" x2="1952.5" y2="415.8" stroke="#262626" stroke-width="1.45"/>
<line x1="1183.2" y1="470.5" x2="1187.1" y2="470.5" stroke="#262626" stroke-width="1.3"/>
<line x1="1960.3" y1="470.5" x2="1956.4" y2="470.5" stroke="#262626" stroke-width="1.3"/>
<line x1="1183.2" y1="456.8" x2="1187.1" y2="456.8" stroke="#262626" stroke-width="1.3"/>
<line x1="1960.3" y1="456.8" x2="1956.4" y2="456.8" stroke="#262626" stroke-width="1.3"/>
<line x1="1183.2" y1="447" x2="1187.1" y2="447" stroke="#262626" stroke-width="1.3"/>
<line x1="1960.3" y1="447" x2="1956.4" y2="447" stroke="#262626" stroke-width="1.3"/>
<line x1="1183.2" y1="439.4" x2="1187.1" y2="439.4" stroke="#262626" stroke-width="1.3"/>
<line x1="1960.3" y1="439.4" x2="1956.4" y2="439.4" stroke="#262626" stroke-width="1.3"/>
<line x1="1183.2" y1="433.2" x2="1187.1" y2="433.2" stroke="#262626" stroke-width="1.3"/>
<line x1="1960.3" y1="433.2" x2="1956.4" y2="433.2" stroke="#262626" stroke-width="1.3"/>
<line x1="1183.2" y1="428" x2="1187.1" y2="428" stroke="#262626" stroke-width="1.3"/>
<line x1="1960.3" y1="428" x2="1956.4" y2="428" stroke="#262626" stroke-width="1.3"/>
<line x1="1183.2" y1="423.4" x2="1187.1" y2="423.4" stroke="#262626" stroke-width="1.3"/>
<line x1="1960.3" y1="423.4" x2="1956.4" y2="423.4" stroke="#262626" stroke-width="1.3"/>
<line x1="1183.2" y1="419.4" x2="1187.1" y2="419.4" stroke="#262626" stroke-width="1.3"/>
<line x1="1960.3" y1="419.4" x2="1956.4" y2="419.4" stroke="#262626" stroke-width="1.3"/>
<text x="1183.2" y="541.1" font-size="38.5" text-anchor="middle" fill="#262626">0</text>
<text x="1312.7" y="541.1" font-size="38.5" text-anchor="middle" fill="#262626">0.05</text>
<text x="1442.2" y="541.1" font-size="38.5" text-anchor="middle" fill="#262626">0.1</text>
<text x="1571.8" y="541.1" font-size="38.5" text-anchor="middle" fill="#262626">0.15</text>
<text x="1701.3" y="541.1" font-size="38.5" text-anchor="middle" fill="#262626">0.2</text>
<text x="1830.8" y="541.1" font-size="38.5" text-anchor="middle" fill="#262626">0.25</text>
<text x="1960.3" y="541.1" font-size="38.5" text-anchor="middle" fill="#262626">0.3</text>
<text x="1433.2" y="592" font-size="41.5" text-anchor="start" fill="#262626" textLength="186.5" lengthAdjust="spacingAndGlyphs">Frequency</text>
<text x="1638.2" y="595.5" font-size="49" text-anchor="start" fill="#262626" textLength="9.5" lengthAdjust="spacingAndGlyphs">[</text>
<text x="1648.8" y="592" font-size="42" text-anchor="start" fill="#262626">Hz</text>
<text x="1698.2" y="595.5" font-size="49" text-anchor="start" fill="#262626" textLength="9.5" lengthAdjust="spacingAndGlyphs">]</text>
<text x="1117.4" y="112.2" font-size="38.5" text-anchor="start" fill="#262626" textLength="37" lengthAdjust="spacingAndGlyphs">10</text>
<text x="1156.1" y="98.4" font-size="27" text-anchor="start" fill="#262626" textLength="12" lengthAdjust="spacingAndGlyphs">1</text>
<text x="1117.4" y="190.5" font-size="38.5" text-anchor="start" fill="#262626" textLength="37" lengthAdjust="spacingAndGlyphs">10</text>
<text x="1156.1" y="176.7" font-size="27" text-anchor="start" fill="#262626" textLength="12" lengthAdjust="spacingAndGlyphs">0</text>
<text x="1096.5" y="268.7" font-size="38.5" text-anchor="start" fill="#262626" textLength="37" lengthAdjust="spacingAndGlyphs">10</text>
<text x="1135.4" y="254.9" font-size="27" text-anchor="start" fill="#262626" textLength="32" lengthAdjust="spacingAndGlyphs">−1</text>
<text x="1096.5" y="347" font-size="38.5" text-anchor="start" fill="#262626" textLength="37" lengthAdjust="spacingAndGlyphs">10</text>
<text x="1135.4" y="333.2" font-size="27" text-anchor="start" fill="#262626" textLength="32" lengthAdjust="spacingAndGlyphs">−2</text>
<text x="1096.5" y="425.2" font-size="38.5" text-anchor="start" fill="#262626" textLength="37" lengthAdjust="spacingAndGlyphs">10</text>
<text x="1135.4" y="411.4" font-size="27" text-anchor="start" fill="#262626" textLength="32" lengthAdjust="spacingAndGlyphs">−3</text>
<text x="1096.5" y="503.5" font-size="38.5" text-anchor="start" fill="#262626" textLength="37" lengthAdjust="spacingAndGlyphs">10</text>
<text x="1135.4" y="489.7" font-size="27" text-anchor="start" fill="#262626" textLength="32" lengthAdjust="spacingAndGlyphs">−4</text>
<g transform="translate(1072.1 298.4) rotate(-90)" fill="#262626">
<text x="-39.5" y="0" font-size="45" text-anchor="start" fill="#262626">|</text>
<text x="-25.8" y="0" font-size="44" text-anchor="start" fill="#262626" textLength="30.5" lengthAdjust="spacingAndGlyphs" font-style="italic">K</text>
<text x="7.9" y="6.1" font-size="31" text-anchor="start" fill="#262626" textLength="17.8" lengthAdjust="spacingAndGlyphs">ff</text>
<text x="30.6" y="0" font-size="45" text-anchor="start" fill="#262626">|</text>
</g>
<text x="1040.4" y="71" font-size="39.5" text-anchor="start" fill="#000" textLength="50" lengthAdjust="spacingAndGlyphs">(b)</text>
<text x="1145.1" y="70.1" font-size="39" text-anchor="start" fill="#000" textLength="94" lengthAdjust="spacingAndGlyphs">Surge</text>
<text x="1250.2" y="70.1" font-size="39" text-anchor="start" fill="#000" textLength="88.5" lengthAdjust="spacingAndGlyphs">Pitch</text>
<text x="1410.7" y="70.1" font-size="39" text-anchor="start" fill="#000" textLength="195" lengthAdjust="spacingAndGlyphs">Wave range</text>
</g>
<g id="panel-c">
<line x1="174.7" y1="1041.5" x2="174.7" y2="650.3" stroke="#000" stroke-width="2.3" stroke-dasharray="26.8 17.2"/>
<line x1="255.1" y1="1041.5" x2="255.1" y2="650.3" stroke="#000" stroke-width="2.3" stroke-dasharray="26.8 17.2"/>
<line x1="289.6" y1="1041.9" x2="289.6" y2="650.3" stroke="#000" stroke-width="2.5" stroke-dasharray="2.8 8.2"/>
<line x1="678.2" y1="1041.9" x2="678.2" y2="650.3" stroke="#000" stroke-width="2.5" stroke-dasharray="2.8 8.2"/>
<path d="M160.1 671 L161.1 707.5 L161.8 750 L162.6 766.8 L163.1 770.2 L164.2 775 L167.5 782.9 L169.5 791.1 L172 803.5 L174.3 818.4 L175.5 829.1 L176.3 840 L177.8 872.3 L179.7 900.3 L180.7 910 L181.8 917.2 L182.9 923 L184.5 929.5 L187.2 936.7 L190.3 943.1 L193.9 948.8 L196.9 952.9 L200.9 957.4 L208.9 965.6 L215.6 971.8 L218.7 975 L221.3 978.3 L224.6 983.9 L225.1 976.7 L225.7 964.4 L227 919.4 L230.4 702.1 L231.6 775.8 L231.9 788.9 L232.6 799.8 L233.1 807.3 L233.7 811.4 L238.5 822 L242 828.6 L245 833.2 L247.6 836.5 L254.8 844.7 L261.3 853.2 L271.4 866.9 L296 901.5 L314.1 926 L349.7 973.6 L382.9 1016.9 L387.2 669.6 L400.4 685.1 L411.1 696.8 L426.1 711.9 L443.1 728.1 L471.6 753.8 L485.7 766.8 L492.3 772.5 L496.3 775.7 L500.4 778.6 L510.9 785.4 L515 787.6 L518 788.8 L520.5 789.3 L523 789.2 L525.6 788.6 L528.6 787.4 L539.2 782.5 L549.4 777.1 L552.4 775.9 L555 775.3 L560 775.1 L569 775.6 L573.1 776.2 L576.7 777.3 L580.8 779.1 L582.3 779.9 L583.3 780.8 L584.8 782.9 L587.4 787.6 L589.5 792.3 L592.1 799.9 L594.2 807.1 L596.8 817.6 L598.4 815.8 L599.9 813 L602 808.2 L603.5 803.7 L605.1 797.8 L606.6 790.8 L609.7 773.9 L617.4 859.5 L620.5 846.7 L622 841.7 L623.6 837.9 L625.1 835.5 L627.7 833.1 L629.2 832.3 L630.2 832.1 L630.7 832.3 L631.2 832.8 L632.2 834.7 L634.8 841.2 L641.1 856 L643.7 859.9 L647.8 864.4 L666 880.5 L671.1 884.7 L676.2 888.6 L684.3 894 L692.4 899.1 L699.9 903.5 L707.5 907.4 L714.6 910.7 L723.1 914.2 L731.1 917.2 L739.6 920 L753.6 924 L764.1 926.7 L771.6 928.4 L778.6 929.4 L789.2 930.5 L797.4 931 L804.5 931.2 L810.1 931 L817.1 930.1 L827.2 928.5 L830.7 927.5 L839.3 924.5 L843.3 923.4 L847.3 923.1 L850.3 923.7 L853.4 925.1 L861 929.4 L870.2 933.4 L873.7 935.1 L878.3 938.1 L881.3 940.9 L885.4 946 L887.9 950.1 L898.6 972.9 L901.2 977.7 L906.3 984.3 L907.8 986 L909.3 987.2 L910.4 987.8 L911.4 988.1 L916 987.8 L927.8 985.6 L937.3 983.3" fill="none" stroke="#000" stroke-width="2.6" stroke-linejoin="miter" stroke-miterlimit="2.2" clip-path="url(#clipc)"/>
<path d="M160.1 845.5 L162.4 836.8 L164.6 829.8 L165.7 827.4 L166.2 827 L167.8 827.1 L168.9 827.4 L170.5 828.4 L171.6 829.8" fill="none" stroke="#000" stroke-width="2.6" stroke-linejoin="miter" stroke-miterlimit="2.2" clip-path="url(#clipc)"/>
<path d="M160.1 671 L161.1 707.5 L162.1 764 L164.1 817.8 L164.4 820.8 L164.9 823 L165.9 826.2 L167 828.1 L168 829 L171.1 829.6 L172.2 830.2 L172.7 830.9 L173.9 833.1 L175.5 837.6 L176.5 842.5 L177 846 L178 860 L179.1 896.7 L181.6 944.7 L182.8 963.6 L184.2 976.8 L186.9 981.5 L188 982.5 L189.1 983.1 L191.2 983.9 L194.9 985 L207.1 987.5 L212.2 989.1 L215.4 990.5 L218.5 992.3 L220.6 994 L223.7 997 L224.1 996 L224.6 993.3 L225.5 982.4 L226.4 949.8 L228.1 840 L229.1 787.6 L230 719.2 L231 776.7 L231.8 799.2 L232.9 809.2 L233.4 812.6 L234 814.7 L234.5 815.4 L237.5 821.6 L240.5 827.1 L243.5 831.6 L247.1 835.7 L266.4 853.5 L278.9 866.5 L292 881 L317 909.6 L340.5 937.3 L363 964.6 L384.5 991.5 L405.5 1018.6 L408.2 850 L410.6 672 L423.7 681.5 L436.3 691.4 L443.9 698 L464.6 717.2 L479.6 729.8 L486.1 734.9 L491.1 738.4 L495.6 741 L507.2 747 L510.7 748.5 L513.7 749.5 L517.3 750.2 L520.3 750.4 L522.8 750 L525.4 749.1 L528.9 747.3 L537.1 742.2 L543.1 739 L550.8 734.4 L553.8 732.8 L556.3 731.9 L559.9 731.2 L571.3 731.4 L572.8 731.9 L574.3 732.6 L577.8 734.9 L579.4 736.5 L581.5 739.3 L585.7 746.5 L588.2 751.5 L591.2 758.7 L594.2 767 L600 745 L605.4 726 L610.5 730.2 L614.8 818.4 L616.9 808.3 L618.5 801.9 L621.2 793 L623.4 787.6 L626 793.6 L628.1 797.8 L629.7 800.5 L631.7 803.3 L634.2 806.2 L641.3 813.3 L652 825.6 L660.5 833.9 L664 836.9 L668.6 840.4 L673.1 843.5 L678.2 846.7 L686.7 851.4 L704.4 860.1 L713.4 863.7 L722.4 866.9 L730.5 869.5 L738 871.4 L751 874.3 L761 876.2 L769 877.2 L779.5 878.1 L796.5 879 L804.5 879.1 L808.1 878.9 L813.2 878.2 L821.8 876.5 L824.9 875.6 L833 872.8 L837.1 871.8 L844.1 870.7 L849.2 870.3 L852.7 870.2 L855.8 870.8 L859.9 872.5 L875 880.2 L879.6 883.1 L883.1 886.1 L885.2 888.9 L888.2 894.4 L891.8 901.6 L896.8 913.1 L901.9 922.7 L904.9 927.3 L908.4 931.4 L909.9 932.8 L910.9 933.4 L911.9 933.6 L915 933.2 L937.3 926.8" fill="none" stroke="#000" stroke-width="2.6" stroke-linejoin="miter" stroke-miterlimit="2.2" stroke-dasharray="27.5 16.5" clip-path="url(#clipc)"/>
<path d="M160.1 671 L161.1 707.5 L162.1 764 L164.1 817.8 L164.4 820.8 L164.9 823 L165.9 826.2 L167 828.1 L168 829 L171.1 829.6 L172.2 830.2 L172.7 830.9 L173.9 833.1 L175.5 837.6 L176.5 842.5 L177 846 L178 860 L179.1 896.7 L181.6 944.7 L182.8 963.6 L184.2 976.8 L186.9 981.5 L188 982.5 L189.1 983.1 L191.2 983.9 L194.9 985 L207.1 987.5 L212.2 989.1 L215.4 990.5 L218.5 992.3 L220.6 994 L223.7 997 L224.1 996 L224.6 993.3 L225.5 982.4 L226.4 949.8 L228.1 840 L229.1 787.6 L230 719.2 L231 776.7 L231.8 799.2 L232.9 809.2 L233.4 812.6 L234 814.7 L234.5 815.4 L237.5 821.6 L240.5 827.1 L243.5 831.6 L247.1 835.7 L266.4 853.5 L278.9 866.5 L292 881 L317 909.6 L340.5 937.3 L363 964.6 L384.5 991.5 L405.5 1018.6 L408.2 850 L410.6 672 L423.7 681.5 L436.3 691.4 L443.9 698 L464.6 717.2 L479.6 729.8 L486.1 734.9 L491.1 738.4 L495.6 741 L507.2 747 L510.7 748.5 L513.7 749.5 L517.3 750.2 L520.3 750.4 L522.8 750 L525.4 749.1 L528.9 747.3 L537.1 742.2 L543.1 739 L550.8 734.4 L553.8 732.8 L556.3 731.9 L559.9 731.2 L571.3 731.4 L572.8 731.9 L574.3 732.6 L577.8 734.9 L579.4 736.5 L581.5 739.3 L585.7 746.5 L588.2 751.5 L591.2 758.7 L594.2 767 L600 745 L605.4 726 L610.5 730.2 L614.8 818.4 L616.9 808.3 L618.5 801.9 L621.2 793 L623.4 787.6 L626 793.6 L628.1 797.8 L629.7 800.5 L631.7 803.3 L634.2 806.2 L641.3 813.3 L652 825.6 L660.5 833.9 L664 836.9 L668.6 840.4 L673.1 843.5 L678.2 846.7 L686.7 851.4 L704.4 860.1 L713.4 863.7 L722.4 866.9 L730.5 869.5 L738 871.4 L751 874.3 L761 876.2 L769 877.2 L779.5 878.1 L796.5 879 L804.5 879.1 L808.1 878.9 L813.2 878.2 L821.8 876.5 L824.9 875.6 L833 872.8 L837.1 871.8 L844.1 870.7 L849.2 870.3 L852.7 870.2 L855.8 870.8 L859.9 872.5 L875 880.2 L879.6 883.1 L883.1 886.1 L885.2 888.9 L888.2 894.4 L891.8 901.6 L896.8 913.1 L901.9 922.7 L904.9 927.3 L908.4 931.4 L909.9 932.8 L910.9 933.4 L911.9 933.6 L915 933.2 L937.3 926.8" fill="none" stroke="#000" stroke-width="2.6" stroke-linejoin="miter" stroke-miterlimit="2.2" stroke-dasharray="2.7 8.3" clip-path="url(#clipc)"/>
<path d="M160.1 671 L161.1 707.5 L162.1 764 L164.1 817.8 L164.4 820.8 L164.9 823 L165.9 826.2 L167 828.1 L168 829 L171.1 829.6 L172.2 830.2 L172.7 830.9 L173.9 833.1 L175.5 837.6 L176.5 842.5 L177 846 L178 860 L179.1 896.7 L181.6 944.7 L182.8 963.6 L184.2 976.8 L186.9 981.5 L188 982.5 L189.1 983.1 L191.2 983.9 L194.9 985 L207.1 987.5 L212.2 989.1 L215.4 990.5 L218.5 992.3 L220.6 994 L223.7 997 L224.1 996 L224.6 993.3 L225.5 982.4 L226.4 949.8 L228.1 840 L229.1 787.6 L230 719.2 L231 776.7 L231.8 799.2 L232.9 809.2 L233.4 812.6 L234 814.7 L234.5 815.4 L237.5 821.6 L240.5 827.1 L243.5 831.6 L247.1 835.7 L266.4 853.5 L278.9 866.5 L292 881 L317 909.6 L340.5 937.3 L363 964.6 L384.5 991.5 L405.5 1018.6 L408.2 850 L410.6 672 L423.7 681.5 L436.3 691.4 L443.9 698 L464.6 717.2 L479.6 729.8 L486.1 734.9 L493.1 739.6 L503.2 745 L509.7 748.1 L514.8 749.8 L517.8 750.3 L520.3 750.4 L522.8 750 L525.4 749.1 L528.9 747.3 L537.1 742.2 L543.1 739 L550.8 734.4 L553.8 732.8 L556.3 731.9 L559.9 731.2 L571.3 731.4 L573.8 732.3 L577.3 734.5 L578.9 735.9 L580.5 737.9 L583.1 742 L588.3 751 L591.4 757.1 L595 765 L598.5 757.4 L603 745 L606.1 734.5 L609.7 720 L613 775 L617 810 L619 801.1 L620.5 796.2 L623 791.1 L624 789.7 L625 789 L627.6 795.9 L629.2 799.4 L630.7 802.1 L632.7 804.7 L634.7 806.9 L640.8 812.8 L650 823.4 L655 828.6 L661.5 834.8 L667.5 839.6 L674.1 844.2 L681.2 848.4 L688.2 852.1 L703.4 859.7 L710.4 862.6 L719.9 866.1 L728 868.7 L735.5 870.8 L753.5 874.8 L760.5 876.1 L766.5 876.9 L772 877.5 L787 878.5 L804 879.1 L807 879 L810.6 878.6 L821.3 876.6 L824.9 875.6 L834 872.5 L841.1 871.2 L847.2 870.4 L851.7 870.2 L854.2 870.5 L856.8 871.2 L860.4 872.7 L875.6 880.5 L879.6 883.1 L883.1 886.1 L885.2 888.9 L888.2 894.4 L891.8 901.6 L896.8 913.1 L901.9 922.7 L904.9 927.3 L908.4 931.4 L909.9 932.8 L910.9 933.4 L911.9 933.6 L915 933.2 L937.3 926.8" fill="none" stroke="#000" stroke-width="2.6" stroke-linejoin="miter" stroke-miterlimit="2.2" stroke-dasharray="22 8.4 5.2 8.4" clip-path="url(#clipc)"/>
<path d="M160.1 671 L161.1 707.5 L162.1 764 L164.1 817.8 L164.4 820.8 L164.9 823 L165.9 826.2 L167 828.1 L168 829 L171.1 829.6 L172.2 830.2 L172.7 830.9 L173.9 833.1 L175.5 837.6 L176.5 842.5 L177 846 L178 860 L179.1 896.7 L181.6 944.7 L182.8 963.6 L184.2 976.8 L186.9 981.5 L188 982.5 L189.1 983.1 L191.2 983.9 L194.9 985 L207.1 987.5 L212.2 989.1 L215.4 990.5 L218.5 992.3 L220.6 994 L223.7 997 L224.1 996 L224.6 993.3 L225.5 982.4 L226.4 949.8 L228.1 840 L229.1 787.6 L230 719.2 L231 776.7 L231.8 799.2 L232.9 809.2 L233.4 812.6 L234 814.7 L234.5 815.4 L237.5 821.6 L240.5 827.1 L243.5 831.6 L247.1 835.7 L266.4 853.5 L278.9 866.5 L292 881 L317 909.6 L340.5 937.3 L363 964.6 L384.5 991.5 L405.5 1018.6 L408.2 850 L410.6 672 L423.7 681.5 L436.8 691.9 L443.9 698 L464.6 717.2 L479.1 729.4 L485.1 734.2 L489.6 737.4 L494.1 740.2 L505.2 746 L510.7 748.5 L514.8 749.8 L518.3 750.3 L521.3 750.3 L524.4 749.5 L528.9 747.3 L537.1 742.2 L543.1 739 L551.8 733.9 L554.8 732.4 L557.9 731.5 L560.4 731.2 L570.8 731.3 L573.3 732.1 L576.3 733.9 L578.4 735.3 L583.1 740.5 L592.1 746.9 L594.2 748.7 L596.3 750.9 L597.8 753.1 L601.3 761.3 L602.8 764 L605.8 767.2 L613.3 772.9 L615.3 775.1 L616.9 777.2 L623 787.6 L628.1 797.9 L630.7 802 L633.7 805.6 L641.3 813.3 L650 823.4 L655 828.6 L659.5 833 L663.5 836.5 L668.6 840.4 L673.6 843.9 L683.2 849.5 L700.8 858.5 L706.4 861 L716.9 865 L726 868.1 L734 870.4 L744.5 872.9 L755.5 875.2 L764 876.6 L771.5 877.5 L793 878.8 L802.5 879.1 L807.6 879 L813.2 878.2 L821.8 876.5 L824.9 875.6 L833 872.8 L837.1 871.8 L844.1 870.7 L849.2 870.3 L852.7 870.2 L855.8 870.8 L859.9 872.5 L875 880.2 L879.6 883.1 L883.1 886.1 L885.2 888.9 L888.2 894.4 L891.8 901.6 L896.8 913.1 L901.9 922.7 L904.9 927.3 L908.4 931.4 L909.9 932.8 L910.9 933.4 L911.9 933.6 L915 933.2 L937.3 926.8" fill="none" stroke="#000" stroke-width="8.2" stroke-linejoin="miter" stroke-miterlimit="2.2" stroke-dasharray="8.1 8.4" clip-path="url(#clipc)"/>
<rect x="160.1" y="650.3" width="777.2" height="391.2" fill="none" stroke="#262626" stroke-width="1.45"/>
<line x1="289.6" y1="1041.5" x2="289.6" y2="1033.7" stroke="#262626" stroke-width="1.45"/>
<line x1="289.6" y1="650.3" x2="289.6" y2="658.1" stroke="#262626" stroke-width="1.45"/>
<line x1="419.2" y1="1041.5" x2="419.2" y2="1033.7" stroke="#262626" stroke-width="1.45"/>
<line x1="419.2" y1="650.3" x2="419.2" y2="658.1" stroke="#262626" stroke-width="1.45"/>
<line x1="548.7" y1="1041.5" x2="548.7" y2="1033.7" stroke="#262626" stroke-width="1.45"/>
<line x1="548.7" y1="650.3" x2="548.7" y2="658.1" stroke="#262626" stroke-width="1.45"/>
<line x1="678.2" y1="1041.5" x2="678.2" y2="1033.7" stroke="#262626" stroke-width="1.45"/>
<line x1="678.2" y1="650.3" x2="678.2" y2="658.1" stroke="#262626" stroke-width="1.45"/>
<line x1="807.8" y1="1041.5" x2="807.8" y2="1033.7" stroke="#262626" stroke-width="1.45"/>
<line x1="807.8" y1="650.3" x2="807.8" y2="658.1" stroke="#262626" stroke-width="1.45"/>
<line x1="160.1" y1="748.1" x2="167.9" y2="748.1" stroke="#262626" stroke-width="1.45"/>
<line x1="937.3" y1="748.1" x2="929.5" y2="748.1" stroke="#262626" stroke-width="1.45"/>
<line x1="160.1" y1="845.9" x2="167.9" y2="845.9" stroke="#262626" stroke-width="1.45"/>
<line x1="937.3" y1="845.9" x2="929.5" y2="845.9" stroke="#262626" stroke-width="1.45"/>
<line x1="160.1" y1="943.7" x2="167.9" y2="943.7" stroke="#262626" stroke-width="1.45"/>
<line x1="937.3" y1="943.7" x2="929.5" y2="943.7" stroke="#262626" stroke-width="1.45"/>
<text x="160.1" y="1088.5" font-size="38.5" text-anchor="middle" fill="#262626">0</text>
<text x="289.6" y="1088.5" font-size="38.5" text-anchor="middle" fill="#262626">0.05</text>
<text x="419.2" y="1088.5" font-size="38.5" text-anchor="middle" fill="#262626">0.1</text>
<text x="548.7" y="1088.5" font-size="38.5" text-anchor="middle" fill="#262626">0.15</text>
<text x="678.2" y="1088.5" font-size="38.5" text-anchor="middle" fill="#262626">0.2</text>
<text x="807.8" y="1088.5" font-size="38.5" text-anchor="middle" fill="#262626">0.25</text>
<text x="937.3" y="1088.5" font-size="38.5" text-anchor="middle" fill="#262626">0.3</text>
<text x="410.1" y="1139.4" font-size="41.5" text-anchor="start" fill="#262626" textLength="186.5" lengthAdjust="spacingAndGlyphs">Frequency</text>
<text x="615.2" y="1142.9" font-size="49" text-anchor="start" fill="#262626" textLength="9.5" lengthAdjust="spacingAndGlyphs">[</text>
<text x="625.7" y="1139.4" font-size="42" text-anchor="start" fill="#262626">Hz</text>
<text x="675.2" y="1142.9" font-size="49" text-anchor="start" fill="#262626" textLength="9.5" lengthAdjust="spacingAndGlyphs">]</text>
<text x="146" y="659.1" font-size="38.5" text-anchor="end" fill="#262626">200</text>
<text x="146" y="756.9" font-size="38.5" text-anchor="end" fill="#262626">100</text>
<text x="146" y="854.7" font-size="38.5" text-anchor="end" fill="#262626">0</text>
<text x="146" y="952.5" font-size="38.5" text-anchor="end" fill="#262626">-100</text>
<text x="146" y="1050.3" font-size="38.5" text-anchor="end" fill="#262626">-200</text>
<g transform="translate(52.8 845.9) rotate(-90)" fill="#262626">
<text x="-38.1" y="0" font-size="39" text-anchor="start" fill="#262626" textLength="18.9" lengthAdjust="spacingAndGlyphs" style="font-family:'DejaVu Sans',sans-serif">∠</text>
<text x="-15" y="0" font-size="44" text-anchor="start" fill="#262626" textLength="31.5" lengthAdjust="spacingAndGlyphs" font-style="italic">K</text>
<text x="19.7" y="7.2" font-size="31" text-anchor="start" fill="#262626" textLength="16.8" lengthAdjust="spacingAndGlyphs">ff</text>
</g>
<text x="14.6" y="658.6" font-size="39.5" text-anchor="start" fill="#000" textLength="46.5" lengthAdjust="spacingAndGlyphs">(c)</text>
</g>
<g id="panel-d">
<line x1="1197.8" y1="1041.7" x2="1197.8" y2="650.2" stroke="#000" stroke-width="2.3" stroke-dasharray="26.8 17.2"/>
<line x1="1278.2" y1="1041.7" x2="1278.2" y2="650.2" stroke="#000" stroke-width="2.3" stroke-dasharray="26.8 17.2"/>
<line x1="1312.7" y1="1042.1" x2="1312.7" y2="650.2" stroke="#000" stroke-width="2.5" stroke-dasharray="2.8 8.2"/>
<line x1="1701.3" y1="1042.1" x2="1701.3" y2="650.2" stroke="#000" stroke-width="2.5" stroke-dasharray="2.8 8.2"/>
<path d="M1183.4 670.6 L1184.5 750 L1185.5 845 L1186.4 899.1 L1187.1 926.3 L1188.8 927.6 L1190 928 L1193.5 928 L1195.1 927.3 L1196.6 926.3 L1198.5 768.9 L1199.2 739.5 L1199.7 724.5 L1202.4 724 L1204.4 723 L1206.4 721.4 L1211.5 716.4 L1213.5 714.6 L1216 713.2 L1221.1 711.1 L1226.6 709.3 L1231.7 708.2 L1241.4 706.7 L1249.1 706.2 L1252.3 750.8 L1254.9 791.5 L1256.5 825 L1258.1 868.8 L1260.3 866.8 L1263 863.8 L1271.7 851.6 L1274.3 847.2 L1277.4 838.9 L1279.4 835.2 L1282.9 829.9 L1284.9 827.7 L1286.4 826.5 L1290.5 824.4 L1294 823 L1297.6 822.2 L1300.6 822.1 L1303.7 822.6 L1307.2 823.8 L1310.8 825.5 L1317.9 829.2 L1320.4 830.6 L1323.4 832.7 L1332.9 840.3 L1339.1 845.6 L1346.8 852.7 L1357 862.6 L1372.7 878.7 L1391.5 898.9 L1398.6 906.2 L1411.2 918.2 L1426.9 932 L1437.6 940.9 L1451.3 951.9 L1478 972.6 L1500.7 992.3 L1520.9 1009.1 L1524.4 1011.5 L1527.4 1013.1 L1533 1015.1 L1537.2 1016.2 L1540.3 1016.7 L1542.8 1016.6 L1545.3 1016 L1547.9 1015 L1551.9 1012.8 L1561 1006.8 L1567.6 1001.4 L1570.2 999.7 L1575.2 997.2 L1578.3 995.9 L1581.3 995.1 L1583.8 994.9 L1587.4 995.3 L1590.9 996.2 L1595.5 997.9 L1600 999.9 L1602.5 1001.7 L1608 1006.4 L1620.6 1015.6 L1622.1 1017.1 L1624.2 1019.5 L1626 672 L1628 672.2 L1630.6 672.8 L1633.1 673.9 L1635.6 675.3 L1641.2 679.5 L1648.8 686.5 L1650.3 688.5 L1652.3 691.8 L1659.4 705.2 L1663.9 711.8 L1669 718.2 L1674.1 724 L1679.7 729.9 L1686.3 736.2 L1694.8 743.5 L1703.4 749.7 L1713.4 756 L1723.9 761.5 L1731.4 764.7 L1748.9 771.4 L1758.5 776 L1764.5 778 L1773 780.1 L1782.5 782 L1799.1 784.4 L1808.8 785.5 L1815.3 786 L1820.9 786.1 L1826.4 785.8 L1832.4 785.1 L1845.9 782.7 L1849.4 781.6 L1858.9 778 L1867 776 L1869.5 775.5 L1871.5 775.4 L1874.6 775.9 L1877.7 777.1 L1884.9 780.9 L1893.9 784.9 L1897.9 786.9 L1902.9 790.2 L1907 793.8 L1910 797.3 L1912 800.4 L1913.6 803.8 L1918.9 816.8 L1924.7 828 L1927.3 831.8 L1930.4 834.7 L1932.5 836.3 L1934.1 837.2 L1935.7 837.7 L1939.8 837.4 L1951.1 835 L1960.3 832.3" fill="none" stroke="#000" stroke-width="2.6" stroke-linejoin="miter" stroke-miterlimit="2.2" clip-path="url(#clipd)"/>
<path d="M1183.4 670.6 L1184.5 750 L1185.5 845 L1186.4 899.1 L1187.1 926.3 L1188.8 927.6 L1190 928 L1193.5 928 L1195.1 927.3 L1196.6 926.3 L1198.5 769.2 L1199.2 736.7 L1199.7 722 L1205.5 721.4 L1214 720 L1224.5 720 L1227 720.4 L1231.5 721.9 L1237.5 725.1 L1241 728.2 L1245.5 733.5 L1247.3 748.1 L1249.6 771.3 L1255.4 850 L1256.8 860 L1259.6 883.2 L1260.5 886.7 L1262.5 892.8 L1264.1 896.3 L1265.6 898.6 L1266.6 899.3 L1267.1 899.4 L1267.6 899.2 L1268.7 897.8 L1269.8 895.2 L1270.9 891.6 L1272.8 883.3 L1273.8 875.2 L1279.1 817.1 L1280.2 809.7 L1282.3 799.8 L1283.4 796 L1284.5 793.1 L1288 786.8 L1289.5 784.9 L1291 783.7 L1292 783.5 L1293.5 783.8 L1295 784.6 L1297 786.3 L1303 792.8 L1307.1 796.7 L1315.7 805.7 L1319.3 808.9 L1323.4 811.8 L1329.4 814.3 L1331.4 815.3 L1332.9 816.4 L1334.5 817.9 L1337.1 821 L1344.8 831.9 L1373.2 866 L1392.5 889.8 L1397.6 895.6 L1402.6 901 L1408.7 907.1 L1415.3 913.3 L1427.5 924.1 L1454.3 945.7 L1478.5 966.3 L1499.7 984.7 L1518.4 1000 L1522.9 1003.4 L1526.9 1006 L1535.1 1010.3 L1537.2 1011.1 L1539.2 1011.7 L1541.3 1011.9 L1543.8 1011.6 L1546.4 1010.9 L1549.4 1009.4 L1552.4 1007.6 L1561 1002 L1567.6 996.4 L1570.2 994.8 L1575.2 992.9 L1578.8 991.9 L1582.3 991.4 L1585.3 991.5 L1588.9 992.1 L1592.9 993.3 L1599 995.8 L1601 997 L1604 999.6 L1614.2 1009.7 L1616.2 1011.9 L1620.2 1017.2 L1621.7 1018.8 L1623.2 1019.8 L1624.7 1020.3 L1626.2 1020.6 L1627.8 672 L1629.8 672.2 L1632.3 673 L1634.3 674 L1636.8 675.6 L1641.8 679.7 L1648.8 686.5 L1650.3 688.5 L1652.3 691.9 L1659.4 705.2 L1663.4 711.1 L1668.5 717.6 L1673.6 723.5 L1678.7 728.9 L1684.7 734.8 L1693.3 742.3 L1701.9 748.7 L1712.4 755.4 L1717.9 758.5 L1723.4 761.3 L1730.9 764.5 L1749.4 771.7 L1758.5 776 L1764.5 778 L1773 780.1 L1782.5 782 L1799.1 784.4 L1808.8 785.5 L1815.3 786 L1820.9 786.1 L1826.4 785.8 L1832.4 785.1 L1845.9 782.7 L1849.4 781.6 L1858.9 778 L1867 776 L1869.5 775.5 L1871.5 775.4 L1874.6 775.9 L1877.7 777.1 L1884.9 780.9 L1893.9 784.9 L1897.9 786.9 L1902.9 790.2 L1907 793.8 L1910 797.3 L1912 800.4 L1913.6 803.8 L1918.9 816.8 L1924.7 828 L1927.3 831.8 L1930.4 834.7 L1932.5 836.3 L1934.1 837.2 L1935.7 837.7 L1939.8 837.4 L1951.1 835 L1960.3 832.3" fill="none" stroke="#000" stroke-width="2.6" stroke-linejoin="miter" stroke-miterlimit="2.2" stroke-dasharray="27.5 16.5" clip-path="url(#clipd)"/>
<path d="M1183.4 670.6 L1184.5 750 L1185.5 845 L1186.4 899.1 L1187.1 926.3 L1188.8 927.6 L1190 928 L1193.5 928 L1195.1 927.3 L1196.6 926.3 L1198.5 769.2 L1199.2 736.7 L1199.7 722 L1205.5 721.4 L1214 720 L1224.5 720 L1227 720.4 L1231.5 721.9 L1237.5 725.1 L1241 728.2 L1245.5 733.5 L1247.3 748.1 L1249.3 768.5 L1254.3 832.3 L1255.4 850 L1256.4 878.2 L1257.3 889.5 L1258.2 896.1 L1258.6 898.4 L1259.5 901.5 L1261 905.7 L1262.5 909.2 L1264 911.9 L1265.5 913.7 L1267 914.8 L1268 915 L1268.5 914.8 L1269.5 913.4 L1270.5 910.7 L1271.5 907 L1273.2 898.7 L1274.1 889.7 L1275.2 872.9 L1276.8 844.3 L1278.7 804.6 L1280.8 779.6 L1282.3 768.3 L1283.5 763.4 L1285 759.4 L1286 757.6 L1286.5 757.2 L1287 757 L1288 757.2 L1289.5 758.3 L1291 760.1 L1293 763.2 L1298.5 773.1 L1307.2 784.3 L1330.9 812.8 L1346.8 832.8 L1373.2 864.4 L1391 886.4 L1398.1 894.6 L1405.7 902.5 L1415.3 911.7 L1426.4 921.7 L1454.3 944.1 L1478.5 964.7 L1499.7 983.1 L1517.3 997.6 L1522.4 1001.5 L1526.9 1004.4 L1535.1 1008.7 L1537.2 1009.5 L1539.2 1010.1 L1541.3 1010.3 L1543.8 1010 L1546.4 1009.3 L1549.4 1007.8 L1552.4 1006 L1561 1000.4 L1567.6 994.8 L1570.2 993.2 L1575.2 991.3 L1578.8 990.3 L1582.3 989.8 L1585.3 989.9 L1588.9 990.5 L1592.4 991.5 L1597.5 993.5 L1600.5 995 L1603.5 997.5 L1613.6 1007.5 L1616.2 1010.3 L1620.2 1015.6 L1621.7 1017.2 L1622.7 1018 L1624.7 1018.7 L1626.7 1019.3 L1628.7 1019.5 L1630.3 673.1 L1632.3 673.5 L1634.3 674.3 L1638.3 676.7 L1642.8 680.5 L1648.8 686.6 L1650.3 688.6 L1652.3 691.9 L1659.4 705.3 L1662.9 710.4 L1667.5 716.3 L1672.6 722.4 L1677.7 727.8 L1683.7 733.8 L1692.8 741.9 L1701.4 748.3 L1706.9 752 L1712.4 755.4 L1717.9 758.5 L1723.4 761.3 L1730.9 764.5 L1749.4 771.7 L1758.5 776 L1764.5 778 L1773 780.1 L1782.5 782 L1799.1 784.4 L1808.8 785.5 L1815.3 786 L1820.9 786.1 L1826.4 785.8 L1832.4 785.1 L1845.9 782.7 L1849.4 781.6 L1858.9 778 L1867 776 L1869.5 775.5 L1871.5 775.4 L1874.6 775.9 L1877.7 777.1 L1884.9 780.9 L1893.9 784.9 L1897.9 786.9 L1902.9 790.2 L1907 793.8 L1910 797.3 L1912 800.4 L1913.6 803.8 L1918.9 816.8 L1924.7 828 L1927.3 831.8 L1930.4 834.7 L1932.5 836.3 L1934.1 837.2 L1935.7 837.7 L1939.8 837.4 L1951.1 835 L1960.3 832.3" fill="none" stroke="#000" stroke-width="2.6" stroke-linejoin="miter" stroke-miterlimit="2.2" stroke-dasharray="2.7 8.3" clip-path="url(#clipd)"/>
<path d="M1183.4 670.6 L1184.5 750 L1185.5 845 L1186.4 899.1 L1187.1 926.3 L1188.8 927.6 L1190 928 L1193.5 928 L1195.1 927.3 L1196.6 926.3 L1198.5 769.2 L1199.2 736.7 L1199.7 722 L1205.5 721.4 L1214 720 L1224.5 720 L1227.5 720.5 L1232 722.2 L1236.5 724.5 L1238 725.5 L1241.5 728.7 L1245.5 733.5 L1247.3 748.1 L1249.3 768.5 L1252.9 815.5 L1254.7 836.6 L1255.5 851.7 L1256.2 898.3 L1257.2 908 L1258.1 912 L1259.6 915.9 L1260.7 917.7 L1264.3 922.5 L1265.8 925.8 L1268 932 L1273.4 949.7 L1273.7 949.2 L1274.2 945.2 L1274.7 937.5 L1275.2 926.3 L1275.4 916.5 L1277.6 663.5 L1282.5 726.5 L1283.3 733.5 L1284.9 742.2 L1286 746.8 L1287.6 752.1 L1289.2 756.4 L1291.3 761 L1293.3 765 L1295.4 768.4 L1302.6 778.8 L1306.7 784 L1330.4 812.2 L1346.8 832.8 L1373.2 864.4 L1391.5 887 L1399.1 895.7 L1408.7 905.5 L1417.3 913.6 L1426.4 921.7 L1454.3 944.1 L1478.5 964.7 L1499.7 983.1 L1517.8 998 L1522.9 1001.8 L1526.9 1004.4 L1535.1 1008.7 L1537.2 1009.5 L1539.2 1010.1 L1541.3 1010.3 L1543.8 1010 L1546.4 1009.3 L1549.4 1007.8 L1552.4 1006 L1561 1000.4 L1567.6 994.8 L1570.2 993.2 L1575.2 991.3 L1578.8 990.3 L1582.3 989.8 L1585.3 989.9 L1588.9 990.5 L1592.4 991.5 L1597.5 993.5 L1600.5 995 L1603.5 997.5 L1613.1 1007 L1616.2 1010.3 L1620.2 1015.6 L1622.2 1017.6 L1623.2 1018.2 L1627.2 1019.5 L1629.7 1019.9 L1631.7 1020.1 L1633.3 674.4 L1634.8 674.9 L1636.8 675.9 L1640.3 678.3 L1644.3 681.9 L1648.8 686.6 L1651.8 691.1 L1659.4 705.3 L1662.4 709.7 L1667 715.7 L1671.6 721.2 L1676.6 726.8 L1682.2 732.4 L1691.3 740.6 L1695.9 744.3 L1700.4 747.6 L1705.9 751.4 L1711.9 755.1 L1717.4 758.2 L1723.4 761.3 L1730.9 764.5 L1749.4 771.7 L1758.5 776 L1764.5 778 L1773 780.1 L1782.5 782 L1799.1 784.4 L1808.8 785.5 L1815.3 786 L1820.9 786.1 L1826.4 785.8 L1832.4 785.1 L1845.9 782.7 L1849.4 781.6 L1858.9 778 L1867 776 L1869.5 775.5 L1871.5 775.4 L1874.6 775.9 L1877.7 777.1 L1884.9 780.9 L1893.9 784.9 L1897.9 786.9 L1902.9 790.2 L1907 793.8 L1910 797.3 L1912 800.4 L1913.6 803.8 L1918.9 816.8 L1924.7 828 L1927.3 831.8 L1930.4 834.7 L1932.5 836.3 L1934.1 837.2 L1935.7 837.7 L1939.8 837.4 L1951.1 835 L1960.3 832.3" fill="none" stroke="#000" stroke-width="2.6" stroke-linejoin="miter" stroke-miterlimit="2.2" stroke-dasharray="22 8.4 5.2 8.4" clip-path="url(#clipd)"/>
<path d="M1183.4 669.6 L1184.5 749 L1185.5 844 L1186.4 898.1 L1187.1 925.3 L1188.8 926.6 L1190 927 L1193.5 927 L1195.1 926.3 L1196.6 925.3 L1198.5 768.2 L1199.2 735.7 L1199.7 721 L1205.5 720.4 L1214 719 L1224.5 719 L1227.5 719.5 L1232 721.2 L1236.5 723.5 L1238 724.5 L1241.5 727.7 L1245.5 732.5 L1247.3 747.1 L1249.3 767.5 L1252.9 814.5 L1254.7 835.6 L1255.5 850.7 L1256.2 897.3 L1257.2 907 L1258.1 911 L1259.6 914.9 L1260.7 916.7 L1264.3 921.5 L1265.8 924.8 L1268 931 L1273.4 948.7 L1273.7 948.2 L1274.2 944.2 L1274.9 931.3 L1275.3 923.2 L1275.5 909 L1276.3 811.6 L1277 670.5 L1278.8 685.1 L1280.6 702 L1283 730.5 L1283.8 735.7 L1285.5 743.6 L1286.5 747.7 L1288.2 752.7 L1289.7 756.6 L1291.8 761.1 L1295.9 768.2 L1300.5 775 L1303.6 779.2 L1330.4 811.2 L1346.8 831.8 L1373.2 863.4 L1391.5 886 L1399.1 894.7 L1408.7 904.5 L1417.3 912.6 L1426.4 920.7 L1454.3 943.1 L1478.5 963.7 L1499.7 982.1 L1517.8 997 L1522.9 1000.8 L1526.9 1003.4 L1535.1 1007.7 L1537.2 1008.5 L1539.2 1009.1 L1541.3 1009.3 L1543.8 1009 L1546.4 1008.3 L1549.4 1006.8 L1552.4 1005 L1561 999.4 L1567.6 993.8 L1570.2 992.2 L1575.2 990.3 L1578.8 989.3 L1582.3 988.8 L1585.3 988.9 L1588.9 989.5 L1592.4 990.5 L1597.5 992.5 L1600.5 994 L1603.5 996.5 L1613.6 1006.5 L1616.2 1009.3 L1620.2 1014.6 L1621.7 1016.2 L1622.7 1017 L1625.2 1017.9 L1627.7 1018.5 L1629.7 1018.7 L1631.3 672.5 L1632.8 672.9 L1634.8 673.7 L1638.8 676.1 L1643.3 680 L1648.8 685.6 L1651.8 690 L1659.4 704.3 L1662.9 709.4 L1667.5 715.3 L1672.6 721.4 L1677.7 726.8 L1683.2 732.3 L1692.3 740.5 L1700.9 747 L1706.4 750.7 L1711.9 754.1 L1717.4 757.2 L1723.4 760.3 L1730.9 763.5 L1749.4 770.7 L1758.5 775 L1764.5 777 L1773 779.1 L1782.5 781 L1799.1 783.4 L1808.8 784.5 L1815.3 785 L1820.9 785.1 L1826.4 784.8 L1832.4 784.1 L1845.9 781.7 L1849.4 780.6 L1858.9 777 L1867 775 L1869.5 774.5 L1871.5 774.4 L1874.6 774.9 L1877.7 776.1 L1884.9 779.9 L1893.9 783.9 L1897.9 785.9 L1902.9 789.2 L1907 792.8 L1910 796.3 L1912 799.4 L1913.6 802.8 L1918.9 815.8 L1924.7 827 L1927.3 830.8 L1930.4 833.7 L1932.5 835.3 L1934.1 836.2 L1935.7 836.7 L1939.8 836.4 L1951.1 834 L1960.3 831.3" fill="none" stroke="#000" stroke-width="5.4" stroke-linejoin="miter" stroke-miterlimit="2.2" stroke-dasharray="22 22" clip-path="url(#clipd)"/>
<path d="M1183.4 670.9 L1184.5 750.3 L1185.5 845.3 L1186.4 899.4 L1187.1 926.6 L1188.8 927.9 L1190 928.3 L1193.5 928.3 L1195.1 927.6 L1196.6 926.6 L1198.5 769.5 L1199.2 737 L1199.7 722.3 L1205.5 721.7 L1214 720.3 L1224.5 720.3 L1227.5 720.8 L1232 722.5 L1236.5 724.8 L1238 725.8 L1241.5 729 L1245.5 733.8 L1247.3 748.4 L1249.3 768.8 L1252.9 815.8 L1254.7 836.9 L1255.5 852 L1256.2 898.6 L1257.2 908.3 L1258.1 912.3 L1259.6 916.2 L1260.7 918 L1264.3 922.8 L1265.8 926.1 L1268 932.3 L1273.4 950 L1273.7 949.5 L1274.2 945.5 L1274.9 932.6 L1275.3 924.5 L1275.5 910.3 L1276.3 812.9 L1277 671.8 L1278.8 686.4 L1280.6 703.3 L1283 731.8 L1283.8 737 L1285.5 744.9 L1286.5 749 L1288.2 754 L1289.7 757.9 L1291.8 762.4 L1295.9 769.5 L1300.5 776.3 L1303.6 780.5 L1330.4 812.5 L1346.8 833.1 L1373.2 864.7 L1391.5 887.3 L1399.1 896 L1408.7 905.8 L1417.3 913.9 L1426.4 922 L1454.3 944.4 L1478.5 965 L1499.7 983.4 L1517.8 998.3 L1522.9 1002.1 L1526.9 1004.7 L1535.1 1009 L1537.2 1009.8 L1539.2 1010.4 L1541.3 1010.6 L1543.8 1010.3 L1546.4 1009.6 L1549.4 1008.1 L1552.4 1006.3 L1561 1000.7 L1567.6 995.1 L1570.2 993.5 L1575.2 991.6 L1579.3 990.5 L1582.8 990.1 L1585.8 990.3 L1589.4 990.9 L1593.4 992.2 L1599 994.5 L1601.5 996.1 L1604 998.3 L1613.6 1007.8 L1616.7 1011.2 L1620.7 1016.5 L1622.7 1018.3 L1626.8 1019.8 L1631.3 1021 L1635.4 1021.7 L1639.5 1021.9 L1641.1 678.2 L1645.2 682.5 L1649.3 687.7 L1651.8 691.9 L1658.9 704.8 L1662.9 710.7 L1670.5 720.3 L1678.7 729.2 L1683.7 734.1 L1688.8 738.7 L1693.8 743 L1698.9 746.9 L1704.9 751 L1710.9 754.8 L1716.9 758.2 L1723.4 761.6 L1730.9 764.8 L1749.4 772 L1758.5 776.3 L1764.5 778.3 L1773 780.4 L1782.5 782.3 L1799.1 784.7 L1808.8 785.8 L1815.3 786.3 L1820.9 786.4 L1826.4 786.1 L1832.4 785.4 L1845.9 783 L1849.4 781.9 L1858.9 778.3 L1867 776.3 L1869.5 775.8 L1871.5 775.7 L1874.6 776.2 L1877.7 777.4 L1884.9 781.2 L1893.9 785.2 L1897.9 787.2 L1902.9 790.5 L1907 794.1 L1910 797.6 L1912 800.7 L1913.6 804.1 L1918.9 817.1 L1924.7 828.3 L1927.3 832.1 L1930.4 835 L1932.5 836.6 L1934.1 837.5 L1935.7 838 L1939.8 837.7 L1951.1 835.3 L1960.3 832.6" fill="none" stroke="#000" stroke-width="5.4" stroke-linejoin="miter" stroke-miterlimit="2.2" stroke-dasharray="5.5 5.6" clip-path="url(#clipd)"/>
<path d="M1183.4 671.6 L1184.5 751 L1185.5 846 L1186.4 900.1 L1187.1 927.3 L1188.8 928.6 L1190 929 L1193.5 929 L1195.1 928.3 L1196.6 927.3 L1198.5 770.2 L1199.2 737.7 L1199.7 723 L1205.5 722.4 L1214 721 L1224.5 721 L1227.5 721.5 L1232 723.2 L1236.5 725.5 L1238 726.5 L1241.5 729.7 L1245.5 734.5 L1247.3 749.1 L1249.3 769.5 L1252.9 816.5 L1254.7 837.6 L1255.5 852.7 L1256.2 899.3 L1257.2 909 L1258.1 913 L1259.6 916.9 L1260.7 918.7 L1264.3 923.5 L1265.8 926.8 L1268 933 L1273.4 950.7 L1273.7 950.2 L1274.2 946.2 L1274.9 933.3 L1275.3 925.2 L1275.5 911 L1276.3 813.6 L1277 672.5 L1278.8 687.1 L1280.6 704 L1283 732.5 L1283.8 737.7 L1285.5 745.6 L1286.5 749.7 L1288.2 754.7 L1289.7 758.6 L1291.8 763.1 L1295.9 770.2 L1300.5 777 L1303.6 781.2 L1330.4 813.2 L1346.8 833.8 L1373.2 865.4 L1391.5 888 L1399.1 896.7 L1408.7 906.5 L1417.3 914.6 L1426.4 922.7 L1454.3 945.1 L1478.5 965.7 L1499.7 984.1 L1517.8 999 L1522.9 1002.8 L1526.9 1005.4 L1535.1 1009.7 L1537.2 1010.5 L1539.2 1011.1 L1541.3 1011.3 L1543.8 1011 L1546.4 1010.3 L1549.4 1008.8 L1552.4 1007 L1561 1001.4 L1567.6 995.8 L1570.2 994.2 L1575.2 992.3 L1579.3 991.2 L1582.8 990.8 L1585.8 991 L1589.4 991.6 L1593.4 992.9 L1599 995.2 L1601.5 996.8 L1604 999 L1613.6 1008.5 L1616.7 1011.9 L1620.7 1017.2 L1622.7 1019 L1627.8 1020.8 L1632.8 1022.2 L1637.9 1023 L1643 1023.3 L1644.6 680.5 L1656.4 701.4 L1660.4 707.9 L1664.5 713.5 L1668.5 718.6 L1672.6 723.4 L1677.1 728.3 L1682.2 733.4 L1687.8 738.5 L1693.3 743.3 L1698.4 747.2 L1704.4 751.4 L1710.9 755.5 L1716.9 758.9 L1723.4 762.3 L1730.9 765.5 L1749.4 772.7 L1758.5 777 L1764.5 779 L1773 781.1 L1782.5 783 L1799.1 785.4 L1808.8 786.5 L1815.3 787 L1820.9 787.1 L1826.4 786.8 L1832.4 786.1 L1845.9 783.7 L1849.4 782.6 L1858.9 779 L1867 777 L1869.5 776.5 L1871.5 776.4 L1874.6 776.9 L1877.7 778.1 L1884.9 781.9 L1893.9 785.9 L1897.9 787.9 L1902.9 791.2 L1907 794.8 L1910 798.3 L1912 801.4 L1913.6 804.8 L1918.9 817.8 L1924.7 829 L1927.3 832.8 L1930.4 835.7 L1932.5 837.3 L1934.1 838.2 L1935.7 838.7 L1939.8 838.4 L1951.1 836 L1960.3 833.3" fill="none" stroke="#000" stroke-width="5.4" stroke-linejoin="miter" stroke-miterlimit="2.2" stroke-dasharray="22 5.7 10.6 5.7" clip-path="url(#clipd)"/>
<path d="M1652 692.5 L1658.8 704.4 L1665 713.1 L1669 718.2 L1673.6 723.5 L1678.7 728.9 L1683.7 733.8 L1688.8 738.4 L1693.3 742.3 L1697.9 745.8 L1702.9 749.4 L1708.4 753 L1714.4 756.5 L1720.4 759.8 L1725.9 762.4 L1731.9 764.9 L1748.9 771.4 L1759 776.2 L1765.5 778.2 L1774 780.3 L1783 782 L1800.1 784.5 L1809.8 785.6 L1815.8 786 L1821.4 786.1 L1826.9 785.8 L1832.9 785 L1845.9 782.7 L1849.4 781.6 L1858.9 778 L1867 776 L1869.5 775.5 L1871.5 775.4 L1874.6 775.9 L1877.7 777.1 L1884.9 780.9 L1893.9 784.9 L1897.9 786.9 L1902.9 790.2 L1907 793.8 L1910 797.3 L1912 800.4 L1913.6 803.8 L1918.9 816.8 L1924.7 828 L1927.3 831.8 L1930.4 834.7 L1932.5 836.3 L1934.1 837.2 L1935.7 837.7 L1939.8 837.4 L1951.1 835 L1960.3 832.3" fill="none" stroke="#000" stroke-width="7.0" stroke-linejoin="miter" stroke-miterlimit="2.2" clip-path="url(#clipd)"/>
<path d="M1344.8 830.9 L1373.2 865 L1393.5 890 L1401.1 898.4 L1410.7 908.1 L1418.8 915.6 L1427.5 923.1 L1452.3 943 L1478.5 965.3 L1501.2 985 L1517.8 998.6 L1523.9 1003.1 L1527.9 1005.5 L1533.6 1008.5 L1536.7 1009.9 L1540.3 1010.8 L1541.8 1010.9 L1543.8 1010.6 L1545.8 1010 L1547.9 1009.2 L1552.4 1006.6 L1561.5 1000.6 L1567.6 995.4 L1570.2 993.8 L1575.2 991.9 L1578.8 990.9 L1581.8 990.5 L1584.8 990.5 L1588.4 991 L1591.9 992 L1597 993.9 L1600.5 995.6 L1604 998.6 L1611.1 1005.5 L1615.7 1010.3" fill="none" stroke="#000" stroke-width="5.6" stroke-linejoin="miter" stroke-miterlimit="2.2" clip-path="url(#clipd)"/>
<path d="M1629.3 1019.5 L1629.3 672.5" fill="none" stroke="#000" stroke-width="8.6" stroke-linejoin="miter" stroke-miterlimit="2.2" clip-path="url(#clipd)"/>
<rect x="1183.2" y="650.2" width="777.1" height="391.5" fill="none" stroke="#262626" stroke-width="1.45"/>
<line x1="1312.7" y1="1041.7" x2="1312.7" y2="1033.9" stroke="#262626" stroke-width="1.45"/>
<line x1="1312.7" y1="650.2" x2="1312.7" y2="658" stroke="#262626" stroke-width="1.45"/>
<line x1="1442.2" y1="1041.7" x2="1442.2" y2="1033.9" stroke="#262626" stroke-width="1.45"/>
<line x1="1442.2" y1="650.2" x2="1442.2" y2="658" stroke="#262626" stroke-width="1.45"/>
<line x1="1571.8" y1="1041.7" x2="1571.8" y2="1033.9" stroke="#262626" stroke-width="1.45"/>
<line x1="1571.8" y1="650.2" x2="1571.8" y2="658" stroke="#262626" stroke-width="1.45"/>
<line x1="1701.3" y1="1041.7" x2="1701.3" y2="1033.9" stroke="#262626" stroke-width="1.45"/>
<line x1="1701.3" y1="650.2" x2="1701.3" y2="658" stroke="#262626" stroke-width="1.45"/>
<line x1="1830.8" y1="1041.7" x2="1830.8" y2="1033.9" stroke="#262626" stroke-width="1.45"/>
<line x1="1830.8" y1="650.2" x2="1830.8" y2="658" stroke="#262626" stroke-width="1.45"/>
<line x1="1183.2" y1="748.1" x2="1191" y2="748.1" stroke="#262626" stroke-width="1.45"/>
<line x1="1960.3" y1="748.1" x2="1952.5" y2="748.1" stroke="#262626" stroke-width="1.45"/>
<line x1="1183.2" y1="846" x2="1191" y2="846" stroke="#262626" stroke-width="1.45"/>
<line x1="1960.3" y1="846" x2="1952.5" y2="846" stroke="#262626" stroke-width="1.45"/>
<line x1="1183.2" y1="943.8" x2="1191" y2="943.8" stroke="#262626" stroke-width="1.45"/>
<line x1="1960.3" y1="943.8" x2="1952.5" y2="943.8" stroke="#262626" stroke-width="1.45"/>
<text x="1183.2" y="1088.7" font-size="38.5" text-anchor="middle" fill="#262626">0</text>
<text x="1312.7" y="1088.7" font-size="38.5" text-anchor="middle" fill="#262626">0.05</text>
<text x="1442.2" y="1088.7" font-size="38.5" text-anchor="middle" fill="#262626">0.1</text>
<text x="1571.8" y="1088.7" font-size="38.5" text-anchor="middle" fill="#262626">0.15</text>
<text x="1701.3" y="1088.7" font-size="38.5" text-anchor="middle" fill="#262626">0.2</text>
<text x="1830.8" y="1088.7" font-size="38.5" text-anchor="middle" fill="#262626">0.25</text>
<text x="1960.3" y="1088.7" font-size="38.5" text-anchor="middle" fill="#262626">0.3</text>
<text x="1433.2" y="1139.6" font-size="41.5" text-anchor="start" fill="#262626" textLength="186.5" lengthAdjust="spacingAndGlyphs">Frequency</text>
<text x="1638.2" y="1143.1" font-size="49" text-anchor="start" fill="#262626" textLength="9.5" lengthAdjust="spacingAndGlyphs">[</text>
<text x="1648.8" y="1139.6" font-size="42" text-anchor="start" fill="#262626">Hz</text>
<text x="1698.2" y="1143.1" font-size="49" text-anchor="start" fill="#262626" textLength="9.5" lengthAdjust="spacingAndGlyphs">]</text>
<text x="1169.1" y="659" font-size="38.5" text-anchor="end" fill="#262626">200</text>
<text x="1169.1" y="756.9" font-size="38.5" text-anchor="end" fill="#262626">100</text>
<text x="1169.1" y="854.8" font-size="38.5" text-anchor="end" fill="#262626">0</text>
<text x="1169.1" y="952.6" font-size="38.5" text-anchor="end" fill="#262626">-100</text>
<text x="1169.1" y="1050.5" font-size="38.5" text-anchor="end" fill="#262626">-200</text>
<g transform="translate(1075.9 846) rotate(-90)" fill="#262626">
<text x="-38.1" y="0" font-size="39" text-anchor="start" fill="#262626" textLength="18.9" lengthAdjust="spacingAndGlyphs" style="font-family:'DejaVu Sans',sans-serif">∠</text>
<text x="-15" y="0" font-size="44" text-anchor="start" fill="#262626" textLength="31.5" lengthAdjust="spacingAndGlyphs" font-style="italic">K</text>
<text x="19.7" y="7.2" font-size="31" text-anchor="start" fill="#262626" textLength="16.8" lengthAdjust="spacingAndGlyphs">ff</text>
</g>
<text x="1040" y="658.6" font-size="39.5" text-anchor="start" fill="#000" textLength="50" lengthAdjust="spacingAndGlyphs">(d)</text>
</g>
<g id="legend-a">
<rect x="807.8" y="19.9" width="220.3" height="224.3" fill="#fff" stroke="#262626" stroke-width="1.45"/>
<line x1="818.9" y1="46.6" x2="901.9" y2="46.6" stroke="#000" stroke-width="2.6"/>
<text x="910" y="54.2" font-size="35" text-anchor="start" fill="#000" textLength="58" lengthAdjust="spacingAndGlyphs">7 m</text>
<text x="969.5" y="63.1" font-size="53" text-anchor="start" fill="#000">/</text>
<text x="985.3" y="54.2" font-size="35" text-anchor="start" fill="#000">s</text>
<line x1="818.9" y1="89.3" x2="901.9" y2="89.3" stroke="#000" stroke-width="2.6" stroke-dasharray="27.5 16.5"/>
<text x="910" y="96.9" font-size="35" text-anchor="start" fill="#000" textLength="58" lengthAdjust="spacingAndGlyphs">8 m</text>
<text x="969.5" y="105.8" font-size="53" text-anchor="start" fill="#000">/</text>
<text x="985.3" y="96.9" font-size="35" text-anchor="start" fill="#000">s</text>
<line x1="818.9" y1="132" x2="901.9" y2="132" stroke="#000" stroke-width="2.6" stroke-dasharray="2.7 8.3"/>
<text x="910" y="139.6" font-size="35" text-anchor="start" fill="#000" textLength="58" lengthAdjust="spacingAndGlyphs">9 m</text>
<text x="969.5" y="148.5" font-size="53" text-anchor="start" fill="#000">/</text>
<text x="985.3" y="139.6" font-size="35" text-anchor="start" fill="#000">s</text>
<line x1="818.9" y1="174.7" x2="901.9" y2="174.7" stroke="#000" stroke-width="2.6" stroke-dasharray="22 8.4 5.2 8.4"/>
<text x="910" y="182.3" font-size="35" text-anchor="start" fill="#000" textLength="75.4" lengthAdjust="spacingAndGlyphs">10 m</text>
<text x="986.9" y="191.2" font-size="53" text-anchor="start" fill="#000">/</text>
<text x="1002.7" y="182.3" font-size="35" text-anchor="start" fill="#000">s</text>
<line x1="818.9" y1="217.4" x2="901.9" y2="217.4" stroke="#000" stroke-width="8.2" stroke-dasharray="8.1 8.4"/>
<text x="910" y="225" font-size="35" text-anchor="start" fill="#000" textLength="75.4" lengthAdjust="spacingAndGlyphs">11 m</text>
<text x="986.9" y="233.9" font-size="53" text-anchor="start" fill="#000">/</text>
<text x="1002.7" y="225" font-size="35" text-anchor="start" fill="#000">s</text>
</g>
<g id="legend-b">
<rect x="1828.2" y="17.2" width="220.2" height="309.4" fill="#fff" stroke="#262626" stroke-width="1.45"/>
<line x1="1839.1" y1="43.4" x2="1922.2" y2="43.4" stroke="#000" stroke-width="2.6"/>
<text x="1931.5" y="51" font-size="35" text-anchor="start" fill="#000" textLength="75.4" lengthAdjust="spacingAndGlyphs">12 m</text>
<text x="2008.4" y="59.9" font-size="53" text-anchor="start" fill="#000">/</text>
<text x="2024.2" y="51" font-size="35" text-anchor="start" fill="#000">s</text>
<line x1="1839.1" y1="86.2" x2="1922.2" y2="86.2" stroke="#000" stroke-width="2.6" stroke-dasharray="27.5 16.5"/>
<text x="1931.5" y="93.8" font-size="35" text-anchor="start" fill="#000" textLength="75.4" lengthAdjust="spacingAndGlyphs">14 m</text>
<text x="2008.4" y="102.8" font-size="53" text-anchor="start" fill="#000">/</text>
<text x="2024.2" y="93.8" font-size="35" text-anchor="start" fill="#000">s</text>
<line x1="1839.1" y1="129.1" x2="1922.2" y2="129.1" stroke="#000" stroke-width="2.6" stroke-dasharray="2.7 8.3"/>
<text x="1931.5" y="136.7" font-size="35" text-anchor="start" fill="#000" textLength="75.4" lengthAdjust="spacingAndGlyphs">16 m</text>
<text x="2008.4" y="145.6" font-size="53" text-anchor="start" fill="#000">/</text>
<text x="2024.2" y="136.7" font-size="35" text-anchor="start" fill="#000">s</text>
<line x1="1839.1" y1="172" x2="1922.2" y2="172" stroke="#000" stroke-width="2.6" stroke-dasharray="22 8.4 5.2 8.4"/>
<text x="1931.5" y="179.6" font-size="35" text-anchor="start" fill="#000" textLength="75.4" lengthAdjust="spacingAndGlyphs">18 m</text>
<text x="2008.4" y="188.5" font-size="53" text-anchor="start" fill="#000">/</text>
<text x="2024.2" y="179.6" font-size="35" text-anchor="start" fill="#000">s</text>
<line x1="1839.1" y1="214.8" x2="1922.2" y2="214.8" stroke="#000" stroke-width="5.4" stroke-dasharray="22 22"/>
<text x="1931.5" y="222.4" font-size="35" text-anchor="start" fill="#000" textLength="75.4" lengthAdjust="spacingAndGlyphs">20 m</text>
<text x="2008.4" y="231.3" font-size="53" text-anchor="start" fill="#000">/</text>
<text x="2024.2" y="222.4" font-size="35" text-anchor="start" fill="#000">s</text>
<line x1="1839.1" y1="257.6" x2="1922.2" y2="257.6" stroke="#000" stroke-width="5.4" stroke-dasharray="5.5 5.6"/>
<text x="1931.5" y="265.2" font-size="35" text-anchor="start" fill="#000" textLength="75.4" lengthAdjust="spacingAndGlyphs">22 m</text>
<text x="2008.4" y="274.1" font-size="53" text-anchor="start" fill="#000">/</text>
<text x="2024.2" y="265.2" font-size="35" text-anchor="start" fill="#000">s</text>
<line x1="1839.1" y1="300.5" x2="1922.2" y2="300.5" stroke="#000" stroke-width="5.4" stroke-dasharray="22 5.7 10.6 5.7"/>
<text x="1931.5" y="308.1" font-size="35" text-anchor="start" fill="#000" textLength="75.4" lengthAdjust="spacingAndGlyphs">24 m</text>
<text x="2008.4" y="317" font-size="53" text-anchor="start" fill="#000">/</text>
<text x="2024.2" y="308.1" font-size="35" text-anchor="start" fill="#000">s</text>
</g>
</svg></body></html>
